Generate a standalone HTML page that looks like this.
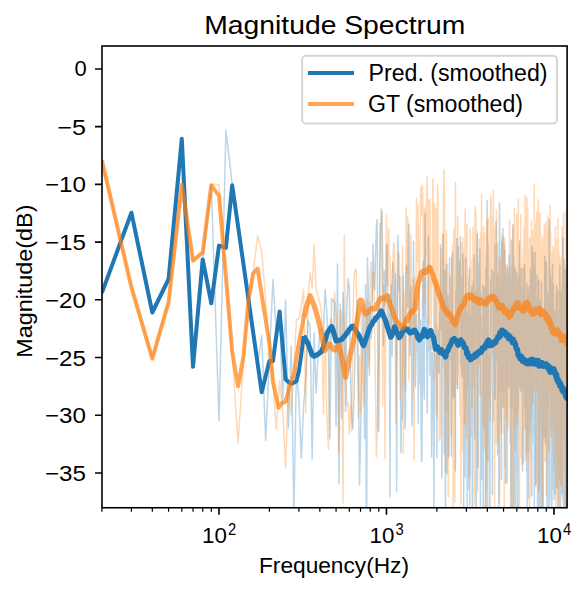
<!DOCTYPE html><html><head><meta charset="utf-8"><style>html,body{margin:0;padding:0;background:#fff;width:587px;height:591px;overflow:hidden;position:relative}</style></head><body><svg width="587" height="591" viewBox="0 0 587 591" style="position:absolute;left:0;top:0"><rect x="0" y="0" width="587" height="591" fill="#fff"/><defs><clipPath id="ax"><rect x="101.9" y="45.86" width="465.30000000000007" height="461.74"/></clipPath></defs><g clip-path="url(#ax)"><path d="M101.90 294.0L131.40 212.7L152.33 312.5L168.56 279.0L181.82 138.8L193.03 366.8L202.75 259.4L211.32 184.4L218.98 421.0L225.91 130.1L232.24 184.4L238.07 219.0L243.46 259.4L248.48 296.3L253.17 332.1L257.58 364.5L261.74 335.6L265.67 440.6L269.40 357.5L272.95 279.6L276.34 334.4L279.57 311.4L282.67 403.7L285.63 299.8L288.49 427.9L291.23 346.0L293.88 513.4L296.43 369.1L298.90 399.9L301.28 458.2L303.59 407.1L305.83 376.0L308.00 320.5L310.11 326.3L312.16 459.0L314.15 333.1L316.09 393.3L317.98 357.5L319.83 329.7L321.62 328.3L323.37 333.2L325.09 289.4L326.76 311.0L328.39 346.8L329.99 438.7L331.56 298.7L333.09 300.1L334.59 303.2L336.06 425.9L337.50 264.0L338.91 483.8L340.30 304.1L341.66 418.7L342.99 292.6L344.30 324.9L345.59 411.5L346.85 306.6L348.10 278.6L349.32 287.7L350.52 377.3L351.71 415.9L352.87 428.8L354.02 398.7L355.14 339.7L356.25 319.2L357.35 299.9L358.43 379.2L359.49 485.1L360.53 437.5L361.57 382.5L362.58 343.8L363.59 304.9L364.58 438.8L365.55 284.3L366.52 583.3L367.47 257.7L368.41 295.7L369.33 374.9L370.25 301.9L371.15 338.6L372.04 327.4L372.93 244.3L373.80 270.3L374.66 290.0L375.51 256.9L376.35 226.5L377.18 219.7L378.00 430.6L378.82 431.1L379.62 296.7L380.41 223.6L381.20 228.3L381.98 210.5L382.75 272.3L383.51 345.8L384.26 270.9L385.01 305.2L385.75 284.6L386.48 244.8L387.20 245.7L387.92 335.1L388.63 320.2L389.33 294.6L390.03 497.0L390.72 304.4L391.40 284.8L392.08 356.6L392.75 262.5L393.41 269.8L394.07 330.1L394.72 331.5L395.37 273.5L396.01 340.8L396.65 491.7L397.28 283.9L397.90 235.4L398.52 278.5L399.13 291.9L399.74 276.4L400.35 339.0L400.95 452.7L401.54 402.6L402.13 419.9L402.71 377.3L403.29 275.8L403.87 325.1L404.44 316.1L405.00 428.6L405.57 412.1L406.12 264.9L406.68 267.2L407.23 302.0L407.77 308.3L408.31 239.5L408.85 223.9L409.38 259.5L409.91 355.8L410.43 305.9L410.96 286.8L411.47 339.8L411.99 425.7L412.50 398.1L413.01 381.1L413.51 241.3L414.01 293.9L414.51 298.6L415.00 347.3L415.49 386.7L415.98 359.5L416.46 314.0L416.94 333.2L417.42 351.5L417.89 326.1L418.36 423.2L418.83 317.3L419.29 287.2L419.76 383.6L420.21 367.5L420.67 320.6L421.12 433.3L421.57 461.5L422.02 454.5L422.47 303.6L422.91 268.5L423.35 260.9L423.79 380.8L424.22 399.1L424.65 278.5L425.08 213.4L425.51 272.6L425.93 315.9L426.35 322.7L426.77 355.7L427.19 413.3L427.60 371.8L428.02 289.8L428.43 237.1L428.83 348.4L429.24 351.4L429.64 333.8L430.04 374.7L430.44 336.5L430.84 358.7L431.23 380.8L431.62 457.1L432.01 409.2L432.40 352.4L432.79 383.5L433.17 418.3L433.55 414.3L433.93 523.2L434.31 377.9L434.69 353.6L435.06 321.9L435.43 278.3L435.80 320.9L436.17 414.4L436.54 324.7L436.90 457.7L437.27 356.6L437.63 354.9L437.99 372.4L438.34 330.0L438.70 371.1L439.05 372.7L439.41 311.9L439.76 329.8L440.10 324.6L440.45 244.7L440.80 285.1L441.14 326.3L441.48 332.7L441.82 478.0L442.16 333.9L442.50 367.8L442.84 255.5L443.17 234.3L443.50 317.3L443.84 336.7L444.17 454.6L444.49 270.0L444.82 273.3L445.15 299.4L445.47 530.8L445.79 358.4L446.11 320.2L446.43 264.3L446.75 396.2L447.07 474.1L447.39 370.2L447.70 295.5L448.01 375.8L448.32 457.4L448.63 330.5L448.94 454.8L449.25 322.1L449.56 258.0L449.86 345.1L450.17 323.7L450.47 359.4L450.77 332.3L451.07 326.5L451.37 456.0L451.67 257.4L451.96 324.5L452.26 270.5L452.55 253.0L452.84 398.6L453.13 389.3L453.43 333.7L453.71 366.4L454.00 322.7L454.29 396.6L454.58 355.8L454.86 315.6L455.14 377.6L455.43 470.7L455.71 290.9L455.99 308.6L456.27 293.0L456.55 258.9L456.82 238.5L457.10 326.8L457.37 359.3L457.65 388.7L457.92 288.1L458.19 246.4L458.46 309.5L458.73 336.7L459.00 308.3L459.27 262.5L459.54 266.9L459.80 303.0L460.07 264.9L460.33 236.8L460.60 301.7L460.86 365.2L461.12 289.1L461.38 307.5L461.64 366.1L461.90 376.5L462.15 277.5L462.41 307.7L462.67 308.4L462.92 253.9L463.18 267.6L463.43 324.8L463.68 514.4L463.93 325.1L464.18 321.7L464.43 384.4L464.68 307.9L464.93 477.3L465.18 464.3L465.42 364.1L465.67 258.2L465.91 285.7L466.15 307.7L466.40 345.0L466.64 402.9L466.88 317.1L467.12 511.0L467.36 315.1L467.60 388.4L467.84 404.5L468.08 319.1L468.31 304.1L468.55 391.4L468.78 489.4L469.02 316.4L469.25 268.1L469.48 313.1L469.72 504.9L469.95 468.3L470.18 476.8L470.41 391.7L470.64 316.1L470.86 332.7L471.09 320.3L471.32 436.5L471.55 308.6L471.77 286.8L472.00 346.4L472.22 426.2L472.44 596.0L472.67 398.2L472.89 352.2L473.11 295.4L473.33 281.8L473.55 332.0L473.77 336.0L473.99 360.2L474.21 255.1L474.43 269.6L474.64 425.4L474.86 438.4L475.07 307.3L475.29 291.8L475.50 315.4L475.72 290.8L475.93 346.1L476.14 531.8L476.35 482.9L476.56 481.3L476.78 276.3L476.99 244.5L477.19 243.6L477.40 234.3L477.61 368.0L477.82 329.7L478.03 467.4L478.23 307.3L478.44 365.8L478.64 311.1L478.85 263.6L479.05 339.3L479.26 278.7L479.46 363.0L479.66 257.0L479.86 248.7L480.06 292.2L480.26 320.4L480.46 505.6L480.66 293.5L480.86 337.5L481.06 386.3L481.26 317.3L481.46 419.0L481.65 479.0L481.85 460.4L482.05 373.0L482.24 380.5L482.44 330.3L482.63 346.5L482.82 421.4L483.02 284.9L483.21 539.9L483.40 286.1L483.59 298.0L483.78 370.4L483.98 290.6L484.17 312.8L484.36 288.2L484.54 426.3L484.73 428.5L484.92 372.5L485.11 345.4L485.30 341.9L485.48 548.1L485.67 322.1L485.86 268.6L486.04 300.0L486.23 278.8L486.41 254.4L486.59 285.5L486.78 489.1L486.96 255.0L487.14 200.5L487.33 248.5L487.51 515.0L487.69 249.0L487.87 244.4L488.05 282.2L488.23 361.5L488.41 460.8L488.59 373.6L488.77 421.5L488.94 359.5L489.12 424.3L489.30 355.8L489.48 404.3L489.65 541.4L489.83 570.4L490.00 423.1L490.18 384.9L490.35 326.5L490.53 279.5L490.70 297.8L490.87 355.8L491.05 357.2L491.22 325.5L491.39 303.9L491.56 299.8L491.74 269.3L491.91 274.8L492.08 390.5L492.25 338.5L492.42 494.7L492.59 360.3L492.75 335.1L492.92 335.6L493.09 389.3L493.26 421.3L493.43 414.5L493.59 350.6L493.76 271.8L493.93 314.0L494.09 336.4L494.26 287.9L494.42 292.5L494.59 398.4L494.75 294.4L494.92 250.5L495.08 244.8L495.24 399.3L495.41 316.2L495.57 366.4L495.73 295.1L495.89 327.3L496.05 221.7L496.22 329.5L496.38 281.2L496.54 244.7L496.70 295.1L496.86 332.2L497.02 361.2L497.17 323.1L497.33 300.0L497.49 420.7L497.65 454.6L497.81 314.9L497.96 287.8L498.12 274.1L498.28 288.7L498.43 297.8L498.59 313.6L498.75 336.2L498.90 541.5L499.06 241.9L499.21 253.7L499.37 287.1L499.52 202.7L499.67 228.2L499.83 257.8L499.98 362.5L500.13 358.4L500.28 392.9L500.44 335.6L500.59 338.4L500.74 320.1L500.89 420.6L501.04 285.3L501.19 305.2L501.34 472.7L501.49 479.7L501.64 266.6L501.79 241.6L501.94 279.0L502.09 335.5L502.24 277.5L502.38 292.6L502.53 357.3L502.68 391.0L502.83 246.1L502.97 228.7L503.12 365.1L503.27 298.8L503.41 406.8L503.56 322.9L503.70 301.0L503.85 361.2L503.99 244.3L504.14 272.3L504.28 319.0L504.43 265.9L504.57 284.1L504.71 275.5L504.86 250.3L505.00 288.6L505.14 467.9L505.28 365.8L505.42 272.1L505.57 276.0L505.71 483.2L505.85 333.1L505.99 320.7L506.13 347.6L506.27 340.9L506.41 407.2L506.55 384.9L506.69 356.2L506.83 457.0L506.97 319.0L507.11 482.7L507.25 268.0L507.38 320.9L507.52 359.8L507.66 328.6L507.80 294.2L507.93 352.4L508.07 288.8L508.21 300.5L508.34 386.1L508.48 362.7L508.62 274.3L508.75 310.8L508.89 322.2L509.02 388.0L509.16 344.3L509.29 261.2L509.42 255.3L509.56 280.1L509.69 288.3L509.83 270.1L509.96 338.5L510.09 355.6L510.23 442.7L510.36 397.1L510.49 367.3L510.62 353.1L510.75 314.9L510.89 340.0L511.02 578.1L511.15 313.0L511.28 240.0L511.41 296.4L511.54 365.8L511.67 409.3L511.80 371.0L511.93 292.4L512.06 345.1L512.19 300.1L512.32 243.0L512.45 287.1L512.58 283.7L512.71 332.8L512.83 313.1L512.96 224.6L513.09 287.3L513.22 569.9L513.34 363.6L513.47 349.8L513.60 256.8L513.72 278.1L513.85 320.3L513.98 275.3L514.10 341.1L514.23 502.5L514.35 303.4L514.48 267.2L514.60 337.6L514.73 307.3L514.85 316.0L514.98 268.7L515.10 612.0L515.23 371.1L515.35 309.7L515.47 283.8L515.60 296.6L515.72 314.2L515.84 521.9L515.97 340.1L516.09 301.0L516.21 298.3L516.33 331.0L516.46 473.3L516.58 369.0L516.70 272.2L516.82 364.3L516.94 290.6L517.06 278.9L517.18 291.4L517.30 298.7L517.42 362.3L517.54 338.3L517.66 384.7L517.78 614.0L517.90 515.4L518.02 334.8L518.14 329.7L518.26 383.5L518.38 408.8L518.50 314.1L518.62 369.7L518.73 286.2L518.85 273.8L518.97 312.3L519.09 340.2L519.21 355.1L519.32 314.6L519.44 241.1L519.56 285.0L519.67 386.5L519.79 298.2L519.91 329.9L520.02 336.0L520.14 350.4L520.25 382.0L520.37 290.2L520.48 359.9L520.60 323.9L520.72 287.6L520.83 368.6L520.94 391.5L521.06 327.9L521.17 268.5L521.29 364.8L521.40 376.6L521.52 383.9L521.63 360.9L521.74 309.1L521.86 328.4L521.97 319.6L522.08 291.6L522.19 355.8L522.31 295.9L522.42 290.1L522.53 358.4L522.64 471.1L522.75 375.9L522.87 404.4L522.98 337.8L523.09 309.7L523.20 327.9L523.31 269.4L523.42 291.7L523.53 368.2L523.64 462.3L523.75 395.3L523.86 322.7L523.97 363.6L524.08 389.4L524.19 358.3L524.30 373.0L524.41 266.0L524.52 302.8L524.63 264.5L524.74 292.6L524.85 284.3L524.96 277.6L525.06 302.2L525.17 352.6L525.28 409.3L525.39 322.4L525.50 309.6L525.60 306.1L525.71 303.0L525.82 428.1L525.93 320.6L526.03 316.1L526.14 452.9L526.25 319.3L526.35 310.6L526.46 372.6L526.56 470.9L526.67 427.7L526.78 348.3L526.88 347.8L526.99 283.8L527.09 307.3L527.20 508.7L527.30 374.0L527.41 289.0L527.51 302.2L527.62 344.6L527.72 323.5L527.83 320.9L527.93 390.4L528.03 491.9L528.14 498.5L528.24 378.7L528.35 374.9L528.45 332.3L528.55 334.6L528.65 292.9L528.76 299.3L528.86 355.7L528.96 451.6L529.07 354.8L529.17 286.6L529.27 338.9L529.37 337.6L529.47 334.7L529.58 307.7L529.68 324.9L529.78 288.2L529.88 381.4L529.98 393.8L530.08 330.5L530.18 312.5L530.28 376.3L530.39 355.2L530.49 268.7L530.59 426.9L530.69 295.4L530.79 277.7L530.89 435.8L530.99 302.2L531.09 270.1L531.19 268.8L531.29 323.5L531.38 460.0L531.48 316.0L531.58 269.9L531.68 310.3L531.78 496.1L531.88 246.3L531.98 258.0L532.08 375.9L532.17 369.4L532.27 292.1L532.37 328.8L532.47 443.0L532.57 290.4L532.66 294.5L532.76 300.0L532.86 305.6L532.96 383.5L533.05 345.2L533.15 252.1L533.25 430.6L533.34 320.3L533.44 395.5L533.54 432.1L533.63 387.9L533.73 350.3L533.82 425.2L533.92 346.5L534.02 363.9L534.11 365.4L534.21 469.6L534.30 515.2L534.40 359.0L534.49 265.9L534.59 292.2L534.68 418.6L534.78 486.5L534.87 445.0L534.97 336.0L535.06 271.5L535.16 252.2L535.25 289.0L535.34 391.7L535.44 330.2L535.53 313.1L535.63 413.5L535.72 431.3L535.81 387.4L535.91 471.8L536.00 483.5L536.09 370.4L536.19 358.9L536.28 383.2L536.37 394.3L536.46 313.3L536.56 315.3L536.65 378.3L536.74 300.7L536.83 323.5L536.92 355.2L537.02 316.8L537.11 277.4L537.20 274.9L537.29 330.1L537.38 371.0L537.47 362.0L537.57 514.1L537.66 481.0L537.75 415.7L537.84 392.0L537.93 289.8L538.02 315.6L538.11 377.1L538.20 348.8L538.29 418.2L538.38 354.5L538.47 415.2L538.56 354.6L538.65 296.4L538.74 279.9L538.83 285.2L538.92 297.8L539.01 700.5L539.10 328.0L539.19 387.0L539.28 351.0L539.37 381.1L539.46 431.4L539.54 332.0L539.63 399.2L539.72 343.8L539.81 355.9L539.90 301.0L539.99 326.3L540.07 355.1L540.16 390.3L540.25 384.6L540.34 449.4L540.43 556.2L540.51 424.6L540.60 356.0L540.69 420.3L540.78 394.8L540.86 429.9L540.95 336.8L541.04 323.8L541.12 420.6L541.21 404.1L541.30 388.3L541.38 371.2L541.47 281.8L541.56 308.0L541.64 330.5L541.73 339.6L541.81 363.8L541.90 408.9L541.99 404.7L542.07 432.6L542.16 430.3L542.24 531.1L542.33 527.2L542.41 393.9L542.50 394.2L542.58 584.2L542.67 374.7L542.75 547.7L542.84 376.1L542.92 319.3L543.01 335.9L543.09 341.3L543.18 405.1L543.26 376.9L543.35 347.8L543.43 415.8L543.51 371.3L543.60 321.8L543.68 349.7L543.77 341.2L543.85 383.9L543.93 367.2L544.02 437.4L544.10 368.5L544.18 310.7L544.27 326.1L544.35 345.3L544.43 340.2L544.52 357.9L544.60 320.1L544.68 268.0L544.76 256.6L544.85 347.1L544.93 361.9L545.01 358.6L545.09 392.3L545.18 343.6L545.26 330.1L545.34 394.6L545.42 443.6L545.50 339.9L545.58 269.2L545.67 262.8L545.75 327.6L545.83 349.4L545.91 341.8L545.99 402.1L546.07 348.5L546.15 303.1L546.23 323.8L546.32 309.1L546.40 262.2L546.48 282.6L546.56 416.2L546.64 294.0L546.72 439.7L546.80 318.1L546.88 437.0L546.96 570.1L547.04 421.1L547.12 308.9L547.20 358.9L547.28 390.1L547.36 302.7L547.44 318.0L547.52 390.7L547.60 357.2L547.68 411.3L547.76 324.9L547.84 293.5L547.91 339.3L547.99 385.9L548.07 313.1L548.15 317.0L548.23 335.9L548.31 459.2L548.39 384.5L548.47 380.2L548.54 452.9L548.62 467.0L548.70 412.2L548.78 517.8L548.86 388.2L548.94 384.9L549.01 370.8L549.09 343.2L549.17 298.5L549.25 219.6L549.32 222.8L549.40 300.3L549.48 552.3L549.56 361.0L549.63 385.6L549.71 342.7L549.79 283.2L549.86 293.2L549.94 269.8L550.02 319.0L550.10 358.5L550.17 426.5L550.25 360.3L550.33 301.4L550.40 309.8L550.48 340.3L550.55 304.1L550.63 277.6L550.71 355.7L550.78 352.6L550.86 353.2L550.93 282.5L551.01 412.8L551.09 405.5L551.16 354.3L551.24 413.3L551.31 500.9L551.39 472.6L551.46 371.1L551.54 307.5L551.61 338.7L551.69 338.3L551.76 421.7L551.84 517.6L551.91 364.1L551.99 303.6L552.06 304.3L552.14 465.3L552.21 379.7L552.29 433.4L552.36 344.8L552.44 264.2L552.51 286.3L552.58 316.1L552.66 319.4L552.73 443.4L552.81 320.0L552.88 347.3L552.95 363.7L553.03 337.1L553.10 373.7L553.18 479.7L553.25 489.3L553.32 412.4L553.40 345.4L553.47 284.2L553.54 304.3L553.62 350.8L553.69 347.9L553.76 364.2L553.83 319.6L553.91 499.2L553.98 426.7L554.05 354.1L554.13 402.4L554.20 368.0L554.27 346.3L554.34 376.6L554.42 365.5L554.49 345.0L554.56 371.1L554.63 337.8L554.70 375.1L554.78 444.2L554.85 397.0L554.92 378.7L554.99 398.1L555.06 310.7L555.13 494.0L555.21 388.7L555.28 342.5L555.35 441.1L555.42 438.7L555.49 421.8L555.56 403.5L555.63 389.8L555.71 366.1L555.78 367.2L555.85 384.6L555.92 344.8L555.99 313.5L556.06 363.0L556.13 294.9L556.20 312.2L556.27 329.9L556.34 337.3L556.41 335.8L556.48 388.1L556.55 447.8L556.62 385.0L556.69 285.4L556.76 312.6L556.83 487.8L556.90 431.5L556.97 359.8L557.04 326.3L557.11 470.7L557.18 340.2L557.25 336.0L557.32 362.9L557.39 423.9L557.46 318.7L557.53 422.7L557.60 389.9L557.67 354.0L557.74 364.4L557.81 363.3L557.87 412.7L557.94 291.5L558.01 332.6L558.08 348.1L558.15 388.7L558.22 325.4L558.29 351.9L558.36 423.2L558.42 468.0L558.49 694.8L558.56 469.6L558.63 401.2L558.70 602.3L558.77 373.8L558.83 334.7L558.90 330.2L558.97 453.6L559.04 537.0L559.11 584.8L559.17 404.3L559.24 530.5L559.31 352.3L559.38 371.7L559.44 491.2L559.51 475.1L559.58 352.4L559.65 309.8L559.71 390.5L559.78 353.3L559.85 265.6L559.91 292.9L559.98 380.3L560.05 445.2L560.12 446.0L560.18 416.3L560.25 419.0L560.32 594.8L560.38 356.3L560.45 404.3L560.52 386.4L560.58 481.9L560.65 297.3L560.71 291.3L560.78 367.7L560.85 331.3L560.91 497.8L560.98 318.6L561.05 296.7L561.11 293.8L561.18 310.0L561.24 418.3L561.31 455.1L561.37 398.6L561.44 421.9L561.51 309.7L561.57 388.2L561.64 360.9L561.70 395.3L561.77 441.7L561.83 434.6L561.90 458.5L561.96 390.6L562.03 335.0L562.09 325.3L562.16 494.0L562.22 291.5L562.29 281.9L562.35 330.8L562.42 413.3L562.48 408.3L562.55 370.3L562.61 400.4L562.68 381.7L562.74 373.9L562.81 244.1L562.87 237.9L562.93 311.0L563.00 440.1L563.06 409.5L563.13 358.1L563.19 340.2L563.26 356.2L563.32 354.3L563.38 340.4L563.45 404.4L563.51 390.3L563.58 307.3L563.64 313.2L563.70 334.5L563.77 419.6L563.83 258.9L563.89 294.8L563.96 615.6L564.02 383.5L564.08 330.8L564.15 430.5L564.21 396.2L564.27 396.5L564.34 337.8L564.40 493.8L564.46 543.3L564.53 356.7L564.59 286.5L564.65 313.6L564.71 333.4L564.78 432.1L564.84 431.2L564.90 360.1L564.96 337.1L565.03 407.0L565.09 501.0L565.15 379.3L565.21 413.5L565.28 348.5L565.34 269.8L565.40 277.0L565.46 329.6L565.53 368.5L565.59 314.8L565.65 334.1L565.71 338.9L565.77 351.2L565.84 541.9L565.90 392.8L565.96 325.5L566.02 289.7L566.08 283.2L566.14 322.5L566.20 355.4L566.27 339.3L566.33 315.8L566.39 317.0L566.45 336.5L566.51 324.4L566.57 297.6L566.63 344.1L566.70 415.8L566.76 403.2L566.82 360.9L566.88 318.6L566.94 362.6L567.00 580.6L567.06 495.2L567.12 446.3L567.18 339.2L567.24 303.9L567.30 304.7L567.36 299.8L567.42 316.8L567.48 465.6L567.55 392.9" fill="none" stroke="#1f77b4" stroke-opacity="0.3" stroke-width="1.5" stroke-linejoin="round"/><path d="M101.90 162.4L131.40 287.1L152.33 357.5L168.56 302.1L181.82 184.4L193.03 260.6L202.75 252.5L211.32 184.4L218.98 184.4L225.91 276.7L232.24 354.1L238.07 442.9L243.46 362.1L248.48 299.8L253.17 273.3L257.58 235.7L261.74 251.3L265.67 299.8L269.40 343.7L272.95 381.8L276.34 429.1L279.57 380.6L282.67 409.5L285.63 468.3L288.49 380.6L291.23 415.2L293.88 369.1L296.43 319.4L298.90 319.2L301.28 307.0L303.59 289.4L305.83 413.0L308.00 297.9L310.11 272.6L312.16 288.2L314.15 244.4L316.09 288.7L317.98 295.8L319.83 302.7L321.62 313.1L323.37 414.1L325.09 329.4L326.76 410.6L328.39 449.2L329.99 319.2L331.56 319.2L333.09 337.7L334.59 291.7L336.06 313.9L337.50 340.9L338.91 453.3L340.30 310.3L341.66 314.0L342.99 503.0L344.30 235.2L345.59 368.7L346.85 405.1L348.10 403.0L349.32 434.5L350.52 405.0L351.71 431.4L352.87 323.1L354.02 276.8L355.14 269.7L356.25 269.1L357.35 354.4L358.43 417.2L359.49 355.8L360.53 412.8L361.57 308.0L362.58 368.7L363.59 406.5L364.58 382.4L365.55 346.0L366.52 319.7L367.47 299.3L368.41 366.8L369.33 352.7L370.25 271.4L371.15 262.1L372.04 301.1L372.93 277.7L373.80 272.5L374.66 330.0L375.51 388.5L376.35 456.6L377.18 433.4L378.00 389.7L378.82 351.0L379.62 275.6L380.41 223.7L381.20 208.6L381.98 274.0L382.75 406.3L383.51 286.3L384.26 293.5L385.01 458.7L385.75 314.3L386.48 215.2L387.20 281.2L387.92 285.9L388.63 229.3L389.33 259.9L390.03 255.9L390.72 331.2L391.40 302.8L392.08 270.9L392.75 269.1L393.41 245.5L394.07 242.9L394.72 260.0L395.37 344.9L396.01 422.9L396.65 322.1L397.28 340.3L397.90 285.2L398.52 254.3L399.13 252.8L399.74 288.5L400.35 400.4L400.95 383.5L401.54 378.4L402.13 262.4L402.71 246.2L403.29 453.6L403.87 291.3L404.44 330.1L405.00 381.1L405.57 390.2L406.12 207.8L406.68 253.1L407.23 273.3L407.77 217.1L408.31 321.0L408.85 379.4L409.38 292.3L409.91 340.5L410.43 303.5L410.96 233.7L411.47 280.4L411.99 333.0L412.50 281.1L413.01 279.8L413.51 292.1L414.01 460.3L414.51 293.3L415.00 277.5L415.49 330.9L415.98 312.8L416.46 198.0L416.94 224.4L417.42 261.5L417.89 205.5L418.36 231.2L418.83 323.9L419.29 262.2L419.76 269.7L420.21 232.9L420.67 186.9L421.12 202.9L421.57 215.1L422.02 189.8L422.47 185.3L422.91 199.9L423.35 287.9L423.79 315.7L424.22 227.4L424.65 208.2L425.08 302.8L425.51 262.1L425.93 203.7L426.35 255.7L426.77 199.7L427.19 176.5L427.60 209.5L428.02 253.5L428.43 323.7L428.83 199.8L429.24 209.5L429.64 289.7L430.04 199.8L430.44 323.6L430.84 327.6L431.23 349.4L431.62 266.8L432.01 287.1L432.40 260.3L432.79 179.0L433.17 187.7L433.55 258.3L433.93 379.9L434.31 255.3L434.69 202.9L435.06 231.0L435.43 288.7L435.80 240.0L436.17 208.6L436.54 278.6L436.90 417.2L437.27 233.8L437.63 185.0L437.99 197.0L438.34 278.7L438.70 309.1L439.05 305.5L439.41 440.4L439.76 301.9L440.10 438.6L440.45 421.0L440.80 275.2L441.14 248.6L441.48 324.5L441.82 328.0L442.16 318.5L442.50 241.3L442.84 232.7L443.17 359.7L443.50 194.6L443.84 186.1L444.17 169.7L444.49 208.8L444.82 374.6L445.15 352.3L445.47 472.1L445.79 444.0L446.11 273.2L446.43 230.6L446.75 275.0L447.07 411.8L447.39 263.9L447.70 274.5L448.01 317.9L448.32 496.8L448.63 309.9L448.94 303.0L449.25 348.0L449.56 329.4L449.86 277.9L450.17 276.3L450.47 348.8L450.77 311.2L451.07 288.1L451.37 435.8L451.67 310.0L451.96 324.3L452.26 250.7L452.55 244.9L452.84 385.8L453.13 516.4L453.43 290.7L453.71 245.0L454.00 228.1L454.29 238.3L454.58 477.2L454.86 502.3L455.14 328.7L455.43 182.3L455.71 224.2L455.99 350.2L456.27 384.0L456.55 364.5L456.82 328.9L457.10 372.7L457.37 388.4L457.65 245.8L457.92 216.6L458.19 287.6L458.46 373.7L458.73 340.9L459.00 274.0L459.27 331.7L459.54 260.3L459.80 415.8L460.07 297.5L460.33 310.5L460.60 335.7L460.86 504.3L461.12 261.4L461.38 242.7L461.64 319.0L461.90 278.9L462.15 450.5L462.41 294.5L462.67 237.5L462.92 267.1L463.18 351.4L463.43 256.1L463.68 248.6L463.93 386.8L464.18 398.5L464.43 318.6L464.68 424.6L464.93 250.8L465.18 209.3L465.42 288.7L465.67 243.1L465.91 238.0L466.15 348.1L466.40 438.0L466.64 405.0L466.88 227.5L467.12 224.0L467.36 318.2L467.60 277.2L467.84 388.4L468.08 325.7L468.31 385.8L468.55 295.3L468.78 282.9L469.02 307.4L469.25 477.5L469.48 277.7L469.72 278.2L469.95 362.1L470.18 229.0L470.41 264.0L470.64 308.0L470.86 297.7L471.09 266.0L471.32 285.6L471.55 353.8L471.77 339.8L472.00 407.3L472.22 259.8L472.44 299.5L472.67 387.5L472.89 290.9L473.11 226.7L473.33 267.1L473.55 367.6L473.77 342.9L473.99 326.7L474.21 381.0L474.43 504.7L474.64 308.1L474.86 349.4L475.07 209.7L475.29 207.0L475.50 232.8L475.72 246.6L475.93 212.1L476.14 239.6L476.35 302.4L476.56 298.9L476.78 372.1L476.99 231.2L477.19 246.7L477.40 316.3L477.61 491.6L477.82 394.1L478.03 293.9L478.23 336.1L478.44 288.5L478.64 364.1L478.85 301.1L479.05 297.1L479.26 282.8L479.46 239.6L479.66 243.2L479.86 372.5L480.06 394.8L480.26 375.3L480.46 248.9L480.66 232.6L480.86 335.2L481.06 251.3L481.26 301.2L481.46 220.4L481.65 194.2L481.85 301.1L482.05 274.0L482.24 247.3L482.44 236.5L482.63 268.9L482.82 283.9L483.02 426.9L483.21 274.6L483.40 252.6L483.59 227.3L483.78 386.9L483.98 270.0L484.17 281.1L484.36 447.8L484.54 236.5L484.73 233.0L484.92 310.1L485.11 451.3L485.30 286.4L485.48 327.6L485.67 337.6L485.86 633.4L486.04 371.7L486.23 365.1L486.41 432.1L486.59 304.5L486.78 236.5L486.96 220.0L487.14 272.9L487.33 405.8L487.51 461.5L487.69 276.4L487.87 219.4L488.05 414.0L488.23 284.1L488.41 236.4L488.59 217.9L488.77 257.2L488.94 396.9L489.12 261.2L489.30 263.9L489.48 262.3L489.65 256.5L489.83 382.8L490.00 271.6L490.18 421.2L490.35 360.7L490.53 227.5L490.70 195.6L490.87 208.5L491.05 197.3L491.22 201.5L491.39 227.3L491.56 220.3L491.74 260.2L491.91 299.1L492.08 235.4L492.25 217.5L492.42 327.8L492.59 249.8L492.75 241.4L492.92 333.3L493.09 351.5L493.26 266.5L493.43 190.4L493.59 285.9L493.76 322.9L493.93 365.8L494.09 226.3L494.26 228.7L494.42 336.1L494.59 542.0L494.75 358.4L494.92 400.9L495.08 290.1L495.24 335.9L495.41 353.5L495.57 330.7L495.73 307.9L495.89 309.4L496.05 444.5L496.22 415.2L496.38 210.3L496.54 219.4L496.70 322.3L496.86 317.2L497.02 251.4L497.17 242.1L497.33 242.8L497.49 256.6L497.65 259.9L497.81 257.2L497.96 289.2L498.12 440.7L498.28 307.7L498.43 309.6L498.59 381.4L498.75 276.0L498.90 277.2L499.06 273.1L499.21 289.4L499.37 298.8L499.52 502.7L499.67 318.8L499.83 257.7L499.98 279.1L500.13 283.3L500.28 274.4L500.44 299.3L500.59 369.5L500.74 307.0L500.89 277.4L501.04 266.7L501.19 328.2L501.34 433.5L501.49 285.5L501.64 262.3L501.79 237.0L501.94 234.7L502.09 276.2L502.24 366.1L502.38 392.7L502.53 379.1L502.68 407.8L502.83 245.2L502.97 274.4L503.12 293.2L503.27 237.2L503.41 319.6L503.56 432.8L503.70 316.6L503.85 280.1L503.99 296.7L504.14 281.8L504.28 587.1L504.43 265.3L504.57 279.2L504.71 237.9L504.86 279.2L505.00 392.7L505.14 315.1L505.28 273.5L505.42 306.0L505.57 335.3L505.71 294.5L505.85 264.8L505.99 329.2L506.13 301.5L506.27 340.5L506.41 417.7L506.55 287.7L506.69 321.4L506.83 358.4L506.97 291.1L507.11 343.0L507.25 264.8L507.38 269.9L507.52 406.7L507.66 430.6L507.80 373.6L507.93 376.8L508.07 293.0L508.21 425.9L508.34 309.9L508.48 268.1L508.62 286.5L508.75 325.6L508.89 341.5L509.02 317.1L509.16 271.7L509.29 289.5L509.42 251.5L509.56 220.4L509.69 230.6L509.83 297.2L509.96 334.3L510.09 369.0L510.23 311.7L510.36 407.7L510.49 287.5L510.62 338.2L510.75 309.8L510.89 281.4L511.02 320.3L511.15 570.8L511.28 393.1L511.41 304.6L511.54 281.4L511.67 330.8L511.80 275.7L511.93 299.8L512.06 354.1L512.19 265.9L512.32 320.6L512.45 356.6L512.58 351.9L512.71 748.6L512.83 268.2L512.96 227.8L513.09 284.0L513.22 340.7L513.34 372.3L513.47 387.4L513.60 269.0L513.72 300.7L513.85 293.1L513.98 228.1L514.10 316.6L514.23 263.6L514.35 208.6L514.48 221.8L514.60 294.2L514.73 426.5L514.85 418.3L514.98 347.7L515.10 355.4L515.23 450.2L515.35 426.3L515.47 348.0L515.60 407.2L515.72 316.7L515.84 293.2L515.97 266.4L516.09 416.5L516.21 307.8L516.33 253.8L516.46 233.4L516.58 214.0L516.70 216.7L516.82 272.8L516.94 335.4L517.06 235.3L517.18 247.9L517.30 229.4L517.42 232.3L517.54 308.3L517.66 424.8L517.78 301.2L517.90 287.2L518.02 300.5L518.14 285.0L518.26 219.6L518.38 199.2L518.50 266.3L518.62 364.1L518.73 336.2L518.85 243.5L518.97 249.5L519.09 377.7L519.21 275.5L519.32 283.4L519.44 532.2L519.56 373.0L519.67 309.2L519.79 267.5L519.91 245.5L520.02 357.9L520.14 373.0L520.25 303.3L520.37 298.3L520.48 457.5L520.60 302.7L520.72 229.2L520.83 214.5L520.94 321.6L521.06 348.6L521.17 262.9L521.29 337.3L521.40 279.4L521.52 280.4L521.63 377.9L521.74 291.8L521.86 279.6L521.97 314.5L522.08 464.6L522.19 349.8L522.31 268.2L522.42 271.9L522.53 298.4L522.64 293.6L522.75 344.2L522.87 257.4L522.98 279.4L523.09 289.3L523.20 263.0L523.31 248.1L523.42 264.9L523.53 363.1L523.64 389.1L523.75 285.0L523.86 243.1L523.97 227.0L524.08 266.2L524.19 285.8L524.30 266.2L524.41 239.9L524.52 258.4L524.63 340.9L524.74 429.7L524.85 302.2L524.96 206.7L525.06 195.6L525.17 269.2L525.28 321.3L525.39 330.2L525.50 290.6L525.60 251.2L525.71 419.6L525.82 391.1L525.93 274.6L526.03 322.0L526.14 459.7L526.25 317.2L526.35 328.6L526.46 278.4L526.56 216.0L526.67 280.1L526.78 225.3L526.88 197.5L526.99 214.8L527.09 262.9L527.20 424.5L527.30 451.4L527.41 397.0L527.51 243.1L527.62 207.8L527.72 220.0L527.83 252.1L527.93 294.2L528.03 307.4L528.14 308.5L528.24 389.1L528.35 308.8L528.45 279.7L528.55 278.6L528.65 294.0L528.76 249.0L528.86 307.8L528.96 310.6L529.07 467.2L529.17 455.4L529.27 370.6L529.37 274.2L529.47 532.9L529.58 536.0L529.68 238.0L529.78 292.4L529.88 265.8L529.98 253.0L530.08 498.5L530.18 322.9L530.28 266.2L530.39 244.6L530.49 274.2L530.59 274.2L530.69 264.9L530.79 302.0L530.89 328.3L530.99 418.9L531.09 322.6L531.19 238.2L531.29 220.5L531.38 251.2L531.48 408.4L531.58 293.5L531.68 239.4L531.78 272.0L531.88 291.3L531.98 352.1L532.08 318.6L532.17 263.6L532.27 268.0L532.37 403.6L532.47 232.7L532.57 230.7L532.66 256.2L532.76 253.8L532.86 326.0L532.96 332.3L533.05 366.4L533.15 401.9L533.25 353.2L533.34 287.9L533.44 276.8L533.54 249.9L533.63 241.0L533.73 366.1L533.82 318.1L533.92 298.4L534.02 261.5L534.11 250.2L534.21 217.9L534.30 184.9L534.40 221.9L534.49 269.7L534.59 303.9L534.68 366.3L534.78 326.7L534.87 227.8L534.97 306.3L535.06 382.3L535.16 389.1L535.25 359.6L535.34 297.7L535.44 224.6L535.53 234.2L535.63 341.8L535.72 387.4L535.81 486.2L535.91 310.0L536.00 243.2L536.09 267.6L536.19 313.8L536.28 274.0L536.37 218.9L536.46 365.8L536.56 304.3L536.65 236.0L536.74 211.9L536.83 289.1L536.92 389.7L537.02 291.4L537.11 281.8L537.20 297.4L537.29 232.9L537.38 359.7L537.47 268.4L537.57 324.7L537.66 258.1L537.75 360.6L537.84 329.1L537.93 364.4L538.02 301.3L538.11 266.8L538.20 199.5L538.29 208.4L538.38 302.9L538.47 491.3L538.56 282.7L538.65 276.1L538.74 376.8L538.83 313.6L538.92 288.1L539.01 336.9L539.10 271.7L539.19 314.1L539.28 393.9L539.37 330.9L539.46 488.5L539.54 460.5L539.63 314.1L539.72 281.7L539.81 248.7L539.90 215.7L539.99 213.2L540.07 256.4L540.16 213.0L540.25 248.1L540.34 300.1L540.43 256.4L540.51 320.7L540.60 251.6L540.69 243.3L540.78 300.9L540.86 301.7L540.95 292.9L541.04 314.8L541.12 325.3L541.21 260.9L541.30 266.8L541.38 360.8L541.47 424.6L541.56 317.6L541.64 329.5L541.73 412.4L541.81 521.3L541.90 393.8L541.99 316.4L542.07 259.8L542.16 344.9L542.24 309.3L542.33 236.2L542.41 237.5L542.50 253.5L542.58 271.7L542.67 335.8L542.75 341.3L542.84 345.9L542.92 246.0L543.01 257.1L543.09 351.7L543.18 341.4L543.26 552.4L543.35 285.4L543.43 240.1L543.51 286.7L543.60 304.2L543.68 298.6L543.77 259.1L543.85 254.0L543.93 300.3L544.02 298.3L544.10 300.3L544.18 329.9L544.27 308.5L544.35 233.5L544.43 224.3L544.52 251.1L544.60 230.1L544.68 224.7L544.76 300.7L544.85 437.3L544.93 461.4L545.01 368.2L545.09 362.0L545.18 326.8L545.26 281.7L545.34 250.2L545.42 292.4L545.50 403.6L545.58 423.2L545.67 302.2L545.75 266.5L545.83 324.3L545.91 375.9L545.99 266.9L546.07 221.4L546.15 248.7L546.23 243.4L546.32 250.6L546.40 379.2L546.48 495.7L546.56 322.1L546.64 308.2L546.72 442.9L546.80 402.4L546.88 317.2L546.96 319.4L547.04 378.8L547.12 248.7L547.20 260.5L547.28 305.5L547.36 359.9L547.44 289.2L547.52 291.6L547.60 291.4L547.68 305.8L547.76 244.3L547.84 215.7L547.91 222.9L547.99 252.1L548.07 313.2L548.15 358.0L548.23 269.4L548.31 407.4L548.39 300.3L548.47 298.3L548.54 310.2L548.62 451.8L548.70 312.3L548.78 270.4L548.86 257.7L548.94 292.6L549.01 264.7L549.09 228.1L549.17 233.3L549.25 296.3L549.32 293.7L549.40 273.0L549.48 281.9L549.56 300.3L549.63 305.3L549.71 354.1L549.79 391.7L549.86 388.6L549.94 378.6L550.02 350.7L550.10 236.8L550.17 205.6L550.25 244.1L550.33 284.9L550.40 357.8L550.48 321.8L550.55 249.1L550.63 233.2L550.71 238.0L550.78 258.9L550.86 300.3L550.93 366.4L551.01 436.4L551.09 427.4L551.16 427.4L551.24 416.2L551.31 302.9L551.39 291.7L551.46 268.4L551.54 321.1L551.61 314.8L551.69 281.1L551.76 254.5L551.84 285.5L551.91 337.2L551.99 334.3L552.06 425.7L552.14 322.0L552.21 290.3L552.29 341.3L552.36 359.0L552.44 378.7L552.51 284.9L552.58 305.5L552.66 290.3L552.73 287.9L552.81 420.2L552.88 283.7L552.95 246.4L553.03 303.4L553.10 311.9L553.18 413.0L553.25 368.5L553.32 344.2L553.40 451.4L553.47 340.0L553.54 421.1L553.62 378.4L553.69 296.7L553.76 284.6L553.83 470.6L553.91 267.2L553.98 263.6L554.05 407.0L554.13 295.0L554.20 250.0L554.27 256.6L554.34 262.4L554.42 260.7L554.49 285.3L554.56 395.3L554.63 325.4L554.70 347.9L554.78 308.3L554.85 309.1L554.92 367.5L554.99 330.2L555.06 285.0L555.13 280.0L555.21 253.2L555.28 227.1L555.35 249.9L555.42 248.0L555.49 258.2L555.56 276.4L555.63 445.2L555.71 373.3L555.78 395.0L555.85 692.0L555.92 431.1L555.99 284.1L556.06 238.8L556.13 323.3L556.20 389.9L556.27 301.9L556.34 304.6L556.41 363.7L556.48 315.4L556.55 498.8L556.62 290.4L556.69 386.6L556.76 327.8L556.83 306.7L556.90 341.1L556.97 338.9L557.04 293.1L557.11 401.6L557.18 321.9L557.25 284.3L557.32 320.9L557.39 314.8L557.46 259.9L557.53 292.1L557.60 347.0L557.67 282.3L557.74 254.0L557.81 291.9L557.87 261.5L557.94 218.0L558.01 275.3L558.08 511.3L558.15 296.9L558.22 391.8L558.29 336.0L558.36 249.0L558.42 239.0L558.49 343.8L558.56 286.6L558.63 297.4L558.70 335.0L558.77 403.2L558.83 252.2L558.90 285.1L558.97 479.0L559.04 472.0L559.11 346.2L559.17 426.8L559.24 273.2L559.31 257.4L559.38 478.0L559.44 288.6L559.51 255.9L559.58 262.4L559.65 334.7L559.71 264.2L559.78 274.5L559.85 300.0L559.91 428.2L559.98 354.2L560.05 328.1L560.12 365.3L560.18 353.4L560.25 344.0L560.32 305.0L560.38 314.6L560.45 484.9L560.52 288.0L560.58 280.5L560.65 272.5L560.71 278.6L560.78 260.6L560.85 272.5L560.91 290.3L560.98 376.1L561.05 312.3L561.11 263.6L561.18 288.8L561.24 340.3L561.31 353.7L561.37 468.4L561.44 485.6L561.51 344.2L561.57 256.9L561.64 316.8L561.70 395.8L561.77 402.9L561.83 440.7L561.90 348.3L561.96 333.8L562.03 287.9L562.09 259.6L562.16 226.6L562.22 281.9L562.29 319.0L562.35 251.3L562.42 277.7L562.48 289.3L562.55 367.0L562.61 327.1L562.68 443.4L562.74 502.5L562.81 464.0L562.87 342.9L562.93 278.2L563.00 378.6L563.06 322.1L563.13 420.2L563.19 332.0L563.26 294.4L563.32 414.9L563.38 269.6L563.45 237.9L563.51 276.7L563.58 212.9L563.64 236.8L563.70 361.1L563.77 378.3L563.83 410.5L563.89 370.1L563.96 285.9L564.02 291.2L564.08 314.5L564.15 337.8L564.21 290.9L564.27 271.4L564.34 263.7L564.40 339.9L564.46 308.8L564.53 273.1L564.59 272.6L564.65 306.5L564.71 356.4L564.78 333.8L564.84 470.9L564.90 346.3L564.96 273.2L565.03 278.0L565.09 329.6L565.15 350.8L565.21 415.0L565.28 464.8L565.34 338.1L565.40 380.2L565.46 524.4L565.53 481.7L565.59 416.2L565.65 300.1L565.71 309.7L565.77 434.9L565.84 293.6L565.90 310.2L565.96 375.6L566.02 266.5L566.08 233.0L566.14 210.7L566.20 261.2L566.27 364.5L566.33 267.1L566.39 256.6L566.45 246.5L566.51 267.1L566.57 296.6L566.63 334.8L566.70 308.5L566.76 370.5L566.82 293.6L566.88 263.0L566.94 278.9L567.00 306.3L567.06 392.4L567.12 448.6L567.18 330.7L567.24 326.9L567.30 353.6L567.36 268.4L567.42 339.1L567.48 420.0L567.55 352.6" fill="none" stroke="#ff7f0e" stroke-opacity="0.3" stroke-width="1.5" stroke-linejoin="round"/><g fill="none" stroke-linejoin="round"><path d="M101.9 292.9 L131.4 212.7 L152.3 312.5 L168.6 279.0 L181.8 138.8 L193.0 366.8 L202.7 259.4 L211.3 303.3 L219.0 245.6 L225.9 247.9 L232.2 185.2 L261.7 392.2 L265.7 376.0 L269.4 361.0 L273.0 361.0 L276.3 335.6 L279.6 311.4 L285.6 379.3 L285.6 379.3 L288.5 382.1 L291.2 383.7 L293.9 382.6 L296.4 381.2 L298.9 371.2 L301.3 354.4 L303.6 335.9" stroke="#1f77b4" stroke-width="4.0"/><path d="M303.6 335.9 L305.8 339.8 L308.0 343.6 L310.1 349.4 L312.2 355.1 L314.2 356.3 L316.1 355.3 L318.0 354.2 L319.8 352.8 L321.6 351.4 L323.4 346.9 L325.1 340.5 L326.8 334.0 L328.4 331.2 L330.0 328.7 L331.6 326.6 L333.1 330.3 L334.6 335.7 L336.1 341.0 L337.5 341.0 L338.9 340.5 L340.3 340.1 L341.7 339.4 L343.0 337.8 L344.3 336.5 L345.6 334.9 L346.9 333.2 L348.1 331.4 L349.3 329.6 L350.5 328.1 L351.7 326.5 L352.9 326.2 L354.0 328.2 L355.1 329.6 L356.3 331.5 L357.3 333.2 L358.4 334.8 L359.5 336.8 L360.5 339.0 L361.6 341.4 L362.6 344.0 L363.6 345.6 L364.6 343.0 L365.6 340.2 L366.5 337.1 L367.5 334.1 L368.4 331.3 L369.3 328.8 L370.2 326.8 L371.2 325.1 L372.0 324.2 L372.9 322.1 L373.8 320.9 L374.7 320.2 L375.5 318.1 L376.3 317.9 L377.2 317.0 L378.0 315.5 L378.8 315.3 L379.6 313.7 L380.4 311.8 L381.2 310.9 L382.0 312.1 L382.7 314.0 L383.5 316.1 L384.3 317.7 L385.0 319.8 L385.7 320.9 L386.5 323.6 L387.2 326.6 L387.9 328.3 L388.6 330.5 L389.3 332.6 L390.0 334.8 L390.7 337.2 L391.4 336.6 L392.1 334.6 L392.7 333.0 L393.4 331.5 L394.1 328.9 L394.7 326.7 L395.4 327.6 L396.0 329.7 L396.6 331.2 L397.3 333.3 L397.9 334.7 L398.5 335.6 L399.1 337.6 L399.7 337.0 L400.3 336.1 L400.9 335.9 L401.5 333.5 L402.1 333.0 L402.7 331.6 L403.3 329.7 L403.9 329.3 L404.4 328.2 L405.0 329.1 L405.6 329.9 L406.1 329.4 L406.7 329.2 L407.2 329.2 L407.8 329.1 L408.3 330.7 L408.8 331.1 L409.4 332.2 L409.9 332.9 L410.4 332.7 L411.0 332.8 L411.5 332.3 L412.0 332.2 L412.5 331.8 L413.0 331.4 L413.5 330.4 L414.0 330.6 L414.5 331.0 L415.0 330.3 L415.5 332.2 L416.0 332.2 L416.5 332.9 L416.9 334.1 L417.4 336.4 L417.9 338.0 L418.4 338.6 L418.8 338.8 L419.3 340.0 L419.8 338.8 L420.2 337.1 L420.7 338.1 L421.1 335.6 L421.6 336.6 L422.0 336.7 L422.5 335.6 L422.9 336.1 L423.3 332.4 L423.8 331.4 L424.2 329.4 L424.7 329.8 L425.1 330.5 L425.5 330.8 L425.9 333.4 L426.4 334.1 L426.8 335.0 L427.2 335.7 L427.6 336.8 L428.0 335.9 L428.4 334.8 L428.8 334.8 L429.2 333.3 L429.6 331.3 L430.0 330.8 L430.4 331.1 L430.8 330.7 L431.2 331.7 L431.6 333.5 L432.0 334.4 L432.4 335.4 L432.8 335.9 L433.2 336.7 L433.6 337.3 L433.9 340.2 L434.3 342.3 L434.7 344.5 L435.1 347.9 L435.4 349.1 L435.8 348.2 L436.2 348.5 L436.5 347.9 L436.9 347.3 L437.3 347.3 L437.6 346.9 L438.0 347.6 L438.3 348.4 L438.7 349.2 L439.1 351.3 L439.4 351.2 L439.8 351.5 L440.1 352.7 L440.5 351.2 L440.8 350.3 L441.1 351.0 L441.5 349.7 L441.8 350.8 L442.2 352.2 L442.5 352.5 L442.8 354.0 L443.2 352.3 L443.5 353.6 L443.8 353.1 L444.2 352.4 L444.5 354.2 L444.8 354.6 L445.1 355.8 L445.5 357.1 L445.8 356.4 L446.1 355.2 L446.4 352.6 L446.8 351.2 L447.1 351.7 L447.4 350.2 L447.7 351.1 L448.0 350.5 L448.3 349.8 L448.6 348.8 L448.9 347.5 L449.3 346.4 L449.6 346.0 L449.9 345.9 L450.2 345.2 L450.5 345.3 L450.8 343.7 L451.1 342.7 L451.4 342.2 L451.7 341.6 L452.0 340.5 L452.3 339.8 L452.6 340.6 L452.8 340.3 L453.1 340.5 L453.4 340.7 L453.7 339.5 L454.0 339.0 L454.3 338.4 L454.6 339.4 L454.9 340.1 L455.1 339.8 L455.4 340.5 L455.7 340.5 L456.0 340.3 L456.3 341.9 L456.5 341.2 L456.8 342.4 L457.1 343.4 L457.4 342.7 L457.6 344.7 L457.9 345.2 L458.2 345.0 L458.5 345.0 L458.7 344.5 L459.0 343.6 L459.3 343.8 L459.5 343.1 L459.8 342.6 L460.1 342.0 L460.3 340.7 L460.6 339.8 L460.9 340.9 L461.1 341.2 L461.4 341.2 L461.6 342.9 L461.9 341.6 L462.2 342.5 L462.4 343.9 L462.7 342.3 L462.9 342.7 L463.2 342.7 L463.4 343.2 L463.7 345.0 L463.9 345.4 L464.2 347.5 L464.4 347.3 L464.7 346.7 L464.9 347.9 L465.2 347.6 L465.4 347.3 L465.7 347.7 L465.9 347.9 L466.2 348.8 L466.4 351.5 L466.6 353.7 L466.9 354.3 L467.1 354.0 L467.4 353.8 L467.6 352.1 L467.8 353.8 L468.1 355.3 L468.3 355.4 L468.5 357.5 L468.8 357.1 L469.0 356.0 L469.3 357.1 L469.5 357.1 L469.7 357.0 L469.9 358.5 L470.2 359.0 L470.4 359.8 L470.6 359.2 L470.9 358.4 L471.1 359.5 L471.3 359.0 L471.5 359.2 L471.8 358.7 L472.0 357.8 L472.2 358.0 L472.4 356.3 L472.7 357.9 L472.9 357.5 L473.1 356.8 L473.3 357.5 L473.6 356.7 L473.8 357.4 L474.0 356.5 L474.2 357.4 L474.4 356.5 L474.6 355.1 L474.9 356.1 L475.1 354.1 L475.3 354.2 L475.5 355.4 L475.7 355.2 L475.9 354.3 L476.1 355.2 L476.4 355.8 L476.6 355.0 L476.8 355.6 L477.0 355.2 L477.2 354.1 L477.4 352.5 L477.6 352.4 L477.8 352.6 L478.0 352.3 L478.2 353.6 L478.4 353.2 L478.6 352.3 L478.8 353.4 L479.1 351.7 L479.3 351.3 L479.5 352.3 L479.7 351.1 L479.9 350.9 L480.1 351.0 L480.3 352.1 L480.5 351.1 L480.7 351.5 L480.9 352.5 L481.1 351.1 L481.3 351.5 L481.5 352.0 L481.7 349.8 L481.9 349.1 L482.0 348.8 L482.2 348.0 L482.4 349.5 L482.6 349.9 L482.8 349.4 L483.0 349.2 L483.2 348.1 L483.4 347.7 L483.6 348.0 L483.8 347.4 L484.0 346.9 L484.2 346.3 L484.4 346.4 L484.5 346.7 L484.7 347.2 L484.9 348.0 L485.1 347.6 L485.3 346.6 L485.5 346.3 L485.7 344.9 L485.9 344.2 L486.0 343.7 L486.2 343.4 L486.4 343.3 L486.6 343.0 L486.8 343.6 L487.0 343.6 L487.1 342.9 L487.3 342.4 L487.5 342.8 L487.7 340.7 L487.9 341.3 L488.0 341.3 L488.2 340.4 L488.4 340.1 L488.6 340.7 L488.8 340.7 L488.9 340.2 L489.1 343.0 L489.3 342.8 L489.5 345.1 L489.7 345.8 L489.8 344.6 L490.0 345.1 L490.2 344.2 L490.4 343.7 L490.5 344.4 L490.7 345.0 L490.9 343.6 L491.0 344.1 L491.2 343.8 L491.4 342.8 L491.6 344.3 L491.7 344.6 L491.9 344.7 L492.1 345.3 L492.2 344.0 L492.4 344.4 L492.6 344.0 L492.8 343.0 L492.9 344.3 L493.1 342.9 L493.3 342.7 L493.4 343.6 L493.6 343.3 L493.8 344.0 L493.9 343.9 L494.1 343.0 L494.3 342.5 L494.4 342.0 L494.6 341.4 L494.8 342.0 L494.9 342.3 L495.1 343.2 L495.2 341.3 L495.4 341.7 L495.6 341.3 L495.7 341.0 L495.9 342.6 L496.1 340.9 L496.2 341.8 L496.4 339.9 L496.5 339.6 L496.7 339.6 L496.9 339.2 L497.0 339.4 L497.2 338.4 L497.3 338.4 L497.5 337.2 L497.6 337.7 L497.8 337.9 L498.0 337.5 L498.1 337.8 L498.3 337.8 L498.4 337.2 L498.6 336.6 L498.7 337.0 L498.9 337.6 L499.1 336.1 L499.2 335.8 L499.4 334.7 L499.5 333.4 L499.7 333.4 L499.8 332.7 L500.0 333.2 L500.1 334.5 L500.3 334.1 L500.4 334.2 L500.6 336.1 L500.7 334.3 L500.9 333.1 L501.0 333.9 L501.2 331.7 L501.3 332.3 L501.5 332.1 L501.6 331.4 L501.8 331.1 L501.9 330.1 L502.1 330.2 L502.2 330.5 L502.4 331.4 L502.5 330.9 L502.7 332.3 L502.8 332.8 L503.0 332.9 L503.1 333.0 L503.3 332.2 L503.4 332.1 L503.6 333.4 L503.7 333.1 L503.8 333.5 L504.0 333.6 L504.1 331.6 L504.3 331.4 L504.4 331.9 L504.6 333.2 L504.7 333.5 L504.9 333.8 L505.0 333.4 L505.1 333.1 L505.3 333.0 L505.4 332.4 L505.6 333.1 L505.7 333.2 L505.8 333.7 L506.0 334.6 L506.1 335.3 L506.3 335.4 L506.4 335.2 L506.6 334.9 L506.7 336.2 L506.8 335.4 L507.0 335.3 L507.1 336.6 L507.2 334.8 L507.4 336.5 L507.5 336.8 L507.7 336.2 L507.8 336.4 L507.9 334.9 L508.1 334.7 L508.2 336.2 L508.3 336.3 L508.5 337.3 L508.6 338.9 L508.8 337.9 L508.9 338.3 L509.0 337.8 L509.2 337.4 L509.3 338.0 L509.4 337.0 L509.6 336.5 L509.7 337.0 L509.8 336.2 L510.0 336.7 L510.1 337.1 L510.2 336.7 L510.4 337.2 L510.5 337.9 L510.6 337.9 L510.8 338.7 L510.9 339.3 L511.0 338.6 L511.1 339.3 L511.3 340.0 L511.4 338.9 L511.5 340.2 L511.7 339.8 L511.8 338.6 L511.9 341.6 L512.1 340.4 L512.2 341.7 L512.3 342.8 L512.4 340.6 L512.6 341.8 L512.7 341.3 L512.8 340.5 L513.0 340.0 L513.1 340.2 L513.2 339.8 L513.3 339.0 L513.5 341.8 L513.6 341.7 L513.7 341.6 L513.9 342.7 L514.0 341.2 L514.1 341.2 L514.2 341.7 L514.4 342.1 L514.5 342.2 L514.6 342.9 L514.7 342.3 L514.9 342.7 L515.0 342.8 L515.1 343.2 L515.2 343.9 L515.4 343.7 L515.5 344.8 L515.6 344.1 L515.7 346.6 L515.8 346.9 L516.0 346.9 L516.1 348.0 L516.2 348.0 L516.3 348.9 L516.5 349.1 L516.6 349.3 L516.7 348.9 L516.8 349.0 L516.9 348.5 L517.1 348.9 L517.2 349.2 L517.3 348.9 L517.4 349.5 L517.5 349.9 L517.7 351.0 L517.8 353.6 L517.9 354.4 L518.0 354.2 L518.1 355.4 L518.3 354.4 L518.4 353.4 L518.5 355.1 L518.6 354.9 L518.7 355.0 L518.9 355.5 L519.0 355.1 L519.1 356.4 L519.2 357.2 L519.3 356.8 L519.4 357.4 L519.6 356.7 L519.7 356.8 L519.8 357.6 L519.9 358.3 L520.0 358.8 L520.1 357.3 L520.3 358.0 L520.4 357.6 L520.5 357.6 L520.6 358.1 L520.7 358.2 L520.8 357.8 L520.9 357.0 L521.1 358.2 L521.2 358.3 L521.3 358.1 L521.4 357.7 L521.5 356.5 L521.6 356.3 L521.7 357.4 L521.9 357.8 L522.0 357.9 L522.1 358.4 L522.2 358.2 L522.3 358.8 L522.4 360.5 L522.5 361.2 L522.6 361.4 L522.8 360.0 L522.9 359.3 L523.0 359.1 L523.1 358.5 L523.2 359.3 L523.3 359.3 L523.4 359.7 L523.5 361.1 L523.6 361.2 L523.8 361.7 L523.9 361.6 L524.0 360.1 L524.1 360.0 L524.2 360.1 L524.3 359.4 L524.4 361.3 L524.5 361.1 L524.6 360.9 L524.7 361.6 L524.8 360.1 L525.0 362.0 L525.1 360.7 L525.2 361.5 L525.3 362.2 L525.4 361.0 L525.5 361.5 L525.6 360.8 L525.7 361.9 L525.8 362.6 L525.9 362.2 L526.0 362.9 L526.1 363.3 L526.2 361.5 L526.4 362.6 L526.5 362.3 L526.6 362.2 L526.7 362.9 L526.8 363.0 L526.9 363.6 L527.0 362.5 L527.1 363.0 L527.2 361.5 L527.3 361.7 L527.4 363.3 L527.5 362.8 L527.6 363.1 L527.7 363.8 L527.8 362.8 L527.9 361.5 L528.0 362.1 L528.1 362.3 L528.2 361.5 L528.3 362.3 L528.4 362.5 L528.6 360.6 L528.7 360.8 L528.8 360.9 L528.9 360.9 L529.0 361.7 L529.1 360.7 L529.2 361.7 L529.3 361.7 L529.4 361.9 L529.5 364.0 L529.6 362.9 L529.7 362.3 L529.8 362.2 L529.9 362.3 L530.0 361.1 L530.1 361.7 L530.2 361.4 L530.3 360.5 L530.4 362.2 L530.5 361.8 L530.6 361.6 L530.7 361.8 L530.8 360.6 L530.9 359.6 L531.0 361.2 L531.1 360.6 L531.2 361.0 L531.3 361.2 L531.4 361.4 L531.5 360.8 L531.6 361.0 L531.7 360.7 L531.8 360.9 L531.9 361.5 L532.0 359.6 L532.1 361.1 L532.2 360.4 L532.3 359.7 L532.4 360.4 L532.5 360.9 L532.6 360.3 L532.7 359.0 L532.8 359.7 L532.9 359.8 L533.0 359.5 L533.1 361.9 L533.1 361.7 L533.2 363.2 L533.3 363.3 L533.4 362.6 L533.5 364.1 L533.6 363.1 L533.7 362.6 L533.8 362.3 L533.9 362.5 L534.0 362.1 L534.1 360.7 L534.2 361.0 L534.3 360.9 L534.4 360.3 L534.5 361.5 L534.6 362.6 L534.7 362.4 L534.8 363.3 L534.9 362.6 L535.0 362.2 L535.1 362.7 L535.2 362.0 L535.3 362.7 L535.3 363.8 L535.4 363.2 L535.5 363.7 L535.6 363.6 L535.7 361.9 L535.8 362.6 L535.9 363.3 L536.0 362.9 L536.1 363.1 L536.2 362.3 L536.3 361.1 L536.4 360.3 L536.5 360.4 L536.6 363.1 L536.6 363.5 L536.7 364.0 L536.8 363.8 L536.9 362.0 L537.0 361.7 L537.1 361.2 L537.2 363.5 L537.3 363.4 L537.4 363.2 L537.5 364.8 L537.6 362.8 L537.7 362.2 L537.7 363.8 L537.8 362.8 L537.9 361.8 L538.0 363.2 L538.1 362.6 L538.2 362.3 L538.3 363.7 L538.4 364.0 L538.5 363.0 L538.6 362.3 L538.7 360.9 L538.7 360.7 L538.8 361.6 L538.9 362.9 L539.0 365.0 L539.1 366.2 L539.2 365.3 L539.3 365.7 L539.4 364.0 L539.5 363.6 L539.5 364.0 L539.6 362.9 L539.7 363.8 L539.8 362.9 L539.9 362.9 L540.0 363.7 L540.1 363.3 L540.2 364.5 L540.3 364.1 L540.3 363.6 L540.4 363.3 L540.5 363.3 L540.6 363.6 L540.7 363.5 L540.8 363.8 L540.9 362.9 L540.9 363.2 L541.0 363.6 L541.1 364.5 L541.2 364.7 L541.3 365.7 L541.4 365.7 L541.5 364.8 L541.6 364.2 L541.6 364.3 L541.7 363.3 L541.8 363.7 L541.9 365.0 L542.0 364.9 L542.1 364.1 L542.2 364.4 L542.2 364.3 L542.3 362.6 L542.4 365.1 L542.5 364.8 L542.6 364.0 L542.7 364.6 L542.8 363.6 L542.8 363.4 L542.9 365.4 L543.0 365.3 L543.1 365.9 L543.2 366.3 L543.3 364.3 L543.3 364.0 L543.4 363.3 L543.5 364.3 L543.6 364.3 L543.7 365.1 L543.8 365.0 L543.8 365.2 L543.9 365.3 L544.0 365.0 L544.1 365.8 L544.2 364.7 L544.3 365.8 L544.3 364.9 L544.4 364.8 L544.5 365.1 L544.6 364.6 L544.7 364.6 L544.8 364.8 L544.8 365.5 L544.9 364.9 L545.0 364.5 L545.1 364.9 L545.2 365.1 L545.3 365.5 L545.3 365.7 L545.4 366.2 L545.5 365.9 L545.6 365.4 L545.7 366.4 L545.7 365.9 L545.8 365.9 L545.9 366.4 L546.0 365.6 L546.1 365.1 L546.2 365.4 L546.2 364.9 L546.3 363.8 L546.4 364.6 L546.5 365.2 L546.6 364.6 L546.6 365.7 L546.7 365.4 L546.8 365.9 L546.9 366.9 L547.0 366.3 L547.0 366.9 L547.1 366.1 L547.2 365.8 L547.3 365.8 L547.4 365.6 L547.4 367.4 L547.5 367.2 L547.6 367.3 L547.7 366.9 L547.8 366.6 L547.8 366.7 L547.9 365.2 L548.0 367.1 L548.1 368.1 L548.2 367.9 L548.2 368.3 L548.3 367.7 L548.4 367.8 L548.5 367.6 L548.5 368.5 L548.6 369.7 L548.7 369.1 L548.8 368.5 L548.9 367.0 L548.9 367.1 L549.0 368.4 L549.1 367.7 L549.2 368.8 L549.2 369.3 L549.3 368.0 L549.4 367.4 L549.5 367.7 L549.6 366.9 L549.6 367.9 L549.7 367.8 L549.8 368.8 L549.9 370.9 L549.9 370.4 L550.0 371.6 L550.1 372.2 L550.2 370.4 L550.2 369.6 L550.3 368.7 L550.4 367.5 L550.5 369.9 L550.6 368.5 L550.6 369.7 L550.7 369.5 L550.8 368.7 L550.9 370.5 L550.9 369.4 L551.0 371.8 L551.1 371.0 L551.2 370.9 L551.2 371.6 L551.3 370.0 L551.4 370.2 L551.5 369.5 L551.5 369.7 L551.6 370.0 L551.7 371.7 L551.8 371.3 L551.8 370.8 L551.9 370.9 L552.0 369.1 L552.1 368.5 L552.1 368.3 L552.2 369.4 L552.3 369.6 L552.4 370.2 L552.4 371.3 L552.5 371.4 L552.6 371.6 L552.7 372.2 L552.7 371.7 L552.8 371.2 L552.9 370.6 L553.0 370.2 L553.0 370.0 L553.1 370.0 L553.2 370.5 L553.2 370.4 L553.3 370.8 L553.4 370.8 L553.5 371.8 L553.5 371.5 L553.6 371.1 L553.7 372.0 L553.8 370.5 L553.8 370.1 L553.9 371.1 L554.0 369.9 L554.1 368.8 L554.1 370.4 L554.2 370.8 L554.3 370.1 L554.3 372.0 L554.4 372.7 L554.5 370.6 L554.6 371.4 L554.6 371.7 L554.7 371.2 L554.8 371.2 L554.8 372.6 L554.9 373.2 L555.0 373.3 L555.1 374.5 L555.1 372.9 L555.2 373.5 L555.3 372.6 L555.3 372.8 L555.4 373.7 L555.5 373.6 L555.6 374.5 L555.6 375.0 L555.7 375.9 L555.8 375.5 L555.8 376.1 L555.9 376.8 L556.0 376.3 L556.1 376.5 L556.1 377.0 L556.2 376.1 L556.3 376.5 L556.3 376.9 L556.4 377.3 L556.5 379.1 L556.6 377.4 L556.6 377.2 L556.7 376.7 L556.8 374.5 L556.8 376.1 L556.9 376.6 L557.0 378.5 L557.0 378.2 L557.1 377.7 L557.2 379.0 L557.3 378.2 L557.3 379.7 L557.4 381.0 L557.5 380.3 L557.5 380.0 L557.6 379.8 L557.7 379.9 L557.7 379.7 L557.8 380.1 L557.9 381.2 L557.9 379.9 L558.0 379.9 L558.1 380.6 L558.2 379.4 L558.2 380.0 L558.3 382.0 L558.4 381.6 L558.4 381.6 L558.5 382.9 L558.6 383.2 L558.6 381.9 L558.7 382.3 L558.8 382.4 L558.8 380.4 L558.9 382.5 L559.0 383.0 L559.0 382.6 L559.1 383.9 L559.2 382.2 L559.2 381.7 L559.3 382.4 L559.4 383.5 L559.4 382.2 L559.5 383.4 L559.6 384.7 L559.6 383.1 L559.7 385.8 L559.8 385.8 L559.8 385.2 L559.9 385.2 L560.0 383.7 L560.0 384.7 L560.1 383.7 L560.2 383.9 L560.2 384.5 L560.3 383.1 L560.4 382.7 L560.4 382.9 L560.5 383.4 L560.6 383.6 L560.6 385.5 L560.7 385.7 L560.8 385.4 L560.8 385.9 L560.9 385.8 L561.0 385.2 L561.0 385.0 L561.1 384.7 L561.2 385.1 L561.2 385.9 L561.3 386.0 L561.4 387.2 L561.4 387.4 L561.5 387.4 L561.6 387.4 L561.6 387.6 L561.7 388.3 L561.8 388.7 L561.8 389.7 L561.9 389.3 L562.0 389.4 L562.0 388.1 L562.1 387.1 L562.2 387.6 L562.2 387.2 L562.3 387.6 L562.4 388.7 L562.4 389.3 L562.5 389.8 L562.5 390.2 L562.6 388.9 L562.7 388.6 L562.7 389.3 L562.8 389.5 L562.9 391.1 L562.9 391.4 L563.0 390.9 L563.1 389.8 L563.1 389.3 L563.2 388.2 L563.3 389.2 L563.3 389.8 L563.4 389.4 L563.4 390.1 L563.5 389.1 L563.6 389.1 L563.6 389.8 L563.7 390.6 L563.8 390.1 L563.8 390.0 L563.9 389.8 L564.0 389.3 L564.0 389.2 L564.1 391.0 L564.1 390.8 L564.2 391.2 L564.3 391.7 L564.3 391.2 L564.4 391.2 L564.5 390.3 L564.5 391.3 L564.6 391.8 L564.7 390.8 L564.7 392.4 L564.8 392.9 L564.8 392.4 L564.9 394.3 L565.0 394.2 L565.0 393.7 L565.1 393.1 L565.2 392.0 L565.2 391.4 L565.3 391.0 L565.3 392.1 L565.4 392.7 L565.5 394.4 L565.5 394.9 L565.6 394.4 L565.6 394.8 L565.7 394.1 L565.8 395.0 L565.8 396.7 L565.9 396.7 L566.0 396.4 L566.0 395.6 L566.1 394.9 L566.1 393.7 L566.2 394.9 L566.3 395.7 L566.3 395.9 L566.4 396.5 L566.5 395.8 L566.5 395.3 L566.6 395.0 L566.6 395.7 L566.7 396.9 L566.8 397.8 L566.8 398.2 L566.9 398.1 L566.9 397.8 L567.0 398.0 L567.1 398.3 L567.1 397.1 L567.2 397.8 L567.2 397.3 L567.3 396.2 L567.4 397.8 L567.4 397.5 L567.5 397.2 L567.5 396.7" stroke="#1f77b4" stroke-width="5.2"/></g><g fill="none" stroke-linejoin="round" opacity="0.7" style="isolation:isolate"><path d="M101.9 160.1 L131.4 287.1 L152.3 358.7 L168.6 302.1 L181.8 184.4 L193.0 260.6 L202.7 252.5 L211.3 185.2 L219.0 195.9 L225.9 276.7 L232.2 351.8 L238.1 386.4 L243.5 356.4 L248.5 299.8 L253.2 273.3 L257.6 268.6 L269.4 343.7 L273.0 381.8 L278.5 407.7 L282.1 403.0 L285.6 401.8 L285.6 401.7 L288.5 390.4 L291.2 382.0 L293.9 374.7 L296.4 358.0 L298.9 342.3 L301.3 330.1 L303.6 318.3" stroke="#ff7f0e" stroke-width="4.0"/><path d="M303.6 318.3 L305.8 309.1 L308.0 301.9 L310.1 295.7 L312.2 300.8 L314.2 305.8 L316.1 311.8 L318.0 318.9 L319.8 325.9 L321.6 335.0 L323.4 343.9 L325.1 350.3 L326.8 347.7 L328.4 345.2 L330.0 344.4 L331.6 347.0 L333.1 349.2 L334.6 350.0 L336.1 348.6 L337.5 346.5 L338.9 345.2 L340.3 351.3 L341.7 356.9 L343.0 362.3 L344.3 369.5 L345.6 377.2 L346.9 370.8 L348.1 365.4 L349.3 359.3 L350.5 353.4 L351.7 348.8 L352.9 343.4 L354.0 338.4 L355.1 333.0 L356.3 326.3 L357.3 319.6 L358.4 312.7 L359.5 306.6 L360.5 300.1 L361.6 300.5 L362.6 304.5 L363.6 308.3 L364.6 312.4 L365.6 314.1 L366.5 313.2 L367.5 312.8 L368.4 312.0 L369.3 310.2 L370.2 309.7 L371.2 308.6 L372.0 308.1 L372.9 308.9 L373.8 308.8 L374.7 309.0 L375.5 308.8 L376.3 307.0 L377.2 304.1 L378.0 303.2 L378.8 301.5 L379.6 299.8 L380.4 298.9 L381.2 298.3 L382.0 298.0 L382.7 298.1 L383.5 298.1 L384.3 299.1 L385.0 298.4 L385.7 297.6 L386.5 297.7 L387.2 295.8 L387.9 298.2 L388.6 300.4 L389.3 301.7 L390.0 304.3 L390.7 306.1 L391.4 306.9 L392.1 309.5 L392.7 311.4 L393.4 313.7 L394.1 316.0 L394.7 317.5 L395.4 319.6 L396.0 321.1 L396.6 321.3 L397.3 323.3 L397.9 323.8 L398.5 323.9 L399.1 325.2 L399.7 324.6 L400.3 326.1 L400.9 327.4 L401.5 327.8 L402.1 327.4 L402.7 327.4 L403.3 326.5 L403.9 325.1 L404.4 325.2 L405.0 322.6 L405.6 321.7 L406.1 320.4 L406.7 318.9 L407.2 320.5 L407.8 318.1 L408.3 318.1 L408.8 317.4 L409.4 314.6 L409.9 314.2 L410.4 313.6 L411.0 312.4 L411.5 312.3 L412.0 312.6 L412.5 311.3 L413.0 310.5 L413.5 311.1 L414.0 309.8 L414.5 309.6 L415.0 309.0 L415.5 305.6 L416.0 301.1 L416.5 295.9 L416.9 293.2 L417.4 288.4 L417.9 285.4 L418.4 282.4 L418.8 281.3 L419.3 280.6 L419.8 278.3 L420.2 276.6 L420.7 275.0 L421.1 273.2 L421.6 272.2 L422.0 271.8 L422.5 271.7 L422.9 271.5 L423.3 271.5 L423.8 271.0 L424.2 272.4 L424.7 272.5 L425.1 271.9 L425.5 272.2 L425.9 272.4 L426.4 271.8 L426.8 270.1 L427.2 270.9 L427.6 269.2 L428.0 269.1 L428.4 269.6 L428.8 268.1 L429.2 268.3 L429.6 267.3 L430.0 267.5 L430.4 268.8 L430.8 269.9 L431.2 270.8 L431.6 272.0 L432.0 272.6 L432.4 273.3 L432.8 274.1 L433.2 275.7 L433.6 277.4 L433.9 279.6 L434.3 279.4 L434.7 280.4 L435.1 282.1 L435.4 282.2 L435.8 283.2 L436.2 284.1 L436.5 285.3 L436.9 286.3 L437.3 288.7 L437.6 289.5 L438.0 291.2 L438.3 292.7 L438.7 292.7 L439.1 294.1 L439.4 295.2 L439.8 294.9 L440.1 296.8 L440.5 298.1 L440.8 299.2 L441.1 300.9 L441.5 301.3 L441.8 302.0 L442.2 302.7 L442.5 304.2 L442.8 304.5 L443.2 305.8 L443.5 306.9 L443.8 308.1 L444.2 308.6 L444.5 309.1 L444.8 309.8 L445.1 309.1 L445.5 310.6 L445.8 310.4 L446.1 309.8 L446.4 312.1 L446.8 311.8 L447.1 311.8 L447.4 314.1 L447.7 314.2 L448.0 314.3 L448.3 314.4 L448.6 314.7 L448.9 313.9 L449.3 313.4 L449.6 314.3 L449.9 314.0 L450.2 315.3 L450.5 315.4 L450.8 316.5 L451.1 317.6 L451.4 317.2 L451.7 318.5 L452.0 319.0 L452.3 319.8 L452.6 320.4 L452.8 322.0 L453.1 322.3 L453.4 322.6 L453.7 322.5 L454.0 321.6 L454.3 322.9 L454.6 322.0 L454.9 323.4 L455.1 324.7 L455.4 321.9 L455.7 321.8 L456.0 321.9 L456.3 320.2 L456.5 320.2 L456.8 319.7 L457.1 317.7 L457.4 316.8 L457.6 316.6 L457.9 315.0 L458.2 314.7 L458.5 313.7 L458.7 312.4 L459.0 312.2 L459.3 310.2 L459.5 310.8 L459.8 310.6 L460.1 308.9 L460.3 309.6 L460.6 308.0 L460.9 307.1 L461.1 307.8 L461.4 306.8 L461.6 307.2 L461.9 306.8 L462.2 305.9 L462.4 306.0 L462.7 305.6 L462.9 305.9 L463.2 305.3 L463.4 304.5 L463.7 305.4 L463.9 303.8 L464.2 303.8 L464.4 302.9 L464.7 302.6 L464.9 302.0 L465.2 300.1 L465.4 300.9 L465.7 298.4 L465.9 297.4 L466.2 297.8 L466.4 296.4 L466.6 296.7 L466.9 296.8 L467.1 296.4 L467.4 296.8 L467.6 297.0 L467.8 296.8 L468.1 297.4 L468.3 297.8 L468.5 296.0 L468.8 295.4 L469.0 296.2 L469.3 294.7 L469.5 295.8 L469.7 297.1 L469.9 296.2 L470.2 297.8 L470.4 296.8 L470.6 297.1 L470.9 297.4 L471.1 295.2 L471.3 295.4 L471.5 295.6 L471.8 295.7 L472.0 296.7 L472.2 296.1 L472.4 295.9 L472.7 297.5 L472.9 296.7 L473.1 298.4 L473.3 299.4 L473.6 298.3 L473.8 300.2 L474.0 298.7 L474.2 298.7 L474.4 300.3 L474.6 298.9 L474.9 298.7 L475.1 300.0 L475.3 300.2 L475.5 299.0 L475.7 300.0 L475.9 300.7 L476.1 301.0 L476.4 300.1 L476.6 300.6 L476.8 300.7 L477.0 298.5 L477.2 299.5 L477.4 299.8 L477.6 300.1 L477.8 299.7 L478.0 301.0 L478.2 301.7 L478.4 301.6 L478.6 303.3 L478.8 302.3 L479.1 302.1 L479.3 302.5 L479.5 302.1 L479.7 302.7 L479.9 302.5 L480.1 302.0 L480.3 300.7 L480.5 300.0 L480.7 299.8 L480.9 299.8 L481.1 300.5 L481.3 301.2 L481.5 302.1 L481.7 302.3 L481.9 302.0 L482.0 301.9 L482.2 301.8 L482.4 302.1 L482.6 302.8 L482.8 303.5 L483.0 302.9 L483.2 303.0 L483.4 303.5 L483.6 302.6 L483.8 302.8 L484.0 303.5 L484.2 302.2 L484.4 303.0 L484.5 303.4 L484.7 302.4 L484.9 303.0 L485.1 302.1 L485.3 302.1 L485.5 303.3 L485.7 303.8 L485.9 303.5 L486.0 304.0 L486.2 303.5 L486.4 302.1 L486.6 303.3 L486.8 302.7 L487.0 302.3 L487.1 302.0 L487.3 300.3 L487.5 299.8 L487.7 298.9 L487.9 299.9 L488.0 299.9 L488.2 300.8 L488.4 300.8 L488.6 299.5 L488.8 300.0 L488.9 299.0 L489.1 298.0 L489.3 298.8 L489.5 299.2 L489.7 298.6 L489.8 298.8 L490.0 298.6 L490.2 297.1 L490.4 297.0 L490.5 296.9 L490.7 297.1 L490.9 297.8 L491.0 298.4 L491.2 297.9 L491.4 296.8 L491.6 298.2 L491.7 297.0 L491.9 296.9 L492.1 298.7 L492.2 296.9 L492.4 296.4 L492.6 297.1 L492.8 296.2 L492.9 296.7 L493.1 297.1 L493.3 296.5 L493.4 296.5 L493.6 297.2 L493.8 298.0 L493.9 298.7 L494.1 298.5 L494.3 299.4 L494.4 297.9 L494.6 296.8 L494.8 298.3 L494.9 298.0 L495.1 300.0 L495.2 300.0 L495.4 301.1 L495.6 300.8 L495.7 299.8 L495.9 301.8 L496.1 302.1 L496.2 301.8 L496.4 301.6 L496.5 301.9 L496.7 301.2 L496.9 302.6 L497.0 303.8 L497.2 304.2 L497.3 304.6 L497.5 304.0 L497.6 304.8 L497.8 304.0 L498.0 304.4 L498.1 304.8 L498.3 305.0 L498.4 306.1 L498.6 306.1 L498.7 307.5 L498.9 308.0 L499.1 308.1 L499.2 307.8 L499.4 307.9 L499.5 307.7 L499.7 305.6 L499.8 306.0 L500.0 306.4 L500.1 305.8 L500.3 306.2 L500.4 307.2 L500.6 307.5 L500.7 307.3 L500.9 307.1 L501.0 305.9 L501.2 305.2 L501.3 305.4 L501.5 306.4 L501.6 307.5 L501.8 307.9 L501.9 307.3 L502.1 307.0 L502.2 305.9 L502.4 305.7 L502.5 306.8 L502.7 306.5 L502.8 306.9 L503.0 308.2 L503.1 308.5 L503.3 309.2 L503.4 309.7 L503.6 309.4 L503.7 309.2 L503.8 309.2 L504.0 309.9 L504.1 309.7 L504.3 310.6 L504.4 312.1 L504.6 312.3 L504.7 311.1 L504.9 311.6 L505.0 311.7 L505.1 309.9 L505.3 311.1 L505.4 310.7 L505.6 310.0 L505.7 310.5 L505.8 309.7 L506.0 310.9 L506.1 311.0 L506.3 311.0 L506.4 311.7 L506.6 312.0 L506.7 312.8 L506.8 312.3 L507.0 312.8 L507.1 313.7 L507.2 313.9 L507.4 313.8 L507.5 314.9 L507.7 313.9 L507.8 313.4 L507.9 312.5 L508.1 312.3 L508.2 313.7 L508.3 313.2 L508.5 315.5 L508.6 315.6 L508.8 315.6 L508.9 316.1 L509.0 315.2 L509.2 317.3 L509.3 316.3 L509.4 315.7 L509.6 317.1 L509.7 315.6 L509.8 315.8 L510.0 316.3 L510.1 316.4 L510.2 316.4 L510.4 316.1 L510.5 315.1 L510.6 316.0 L510.8 315.0 L510.9 312.9 L511.0 314.7 L511.1 313.2 L511.3 312.8 L511.4 315.1 L511.5 313.7 L511.7 313.3 L511.8 312.8 L511.9 311.5 L512.1 311.9 L512.2 312.0 L512.3 312.4 L512.4 310.9 L512.6 310.9 L512.7 311.0 L512.8 309.8 L513.0 310.7 L513.1 310.0 L513.2 309.3 L513.3 308.3 L513.5 309.7 L513.6 309.7 L513.7 308.7 L513.9 309.1 L514.0 308.3 L514.1 308.5 L514.2 307.9 L514.4 308.8 L514.5 308.5 L514.6 308.2 L514.7 308.5 L514.9 308.9 L515.0 307.6 L515.1 308.7 L515.2 307.6 L515.4 305.7 L515.5 306.5 L515.6 305.0 L515.7 305.3 L515.8 306.9 L516.0 307.7 L516.1 306.7 L516.2 306.4 L516.3 304.7 L516.5 303.3 L516.6 303.5 L516.7 303.0 L516.8 303.8 L516.9 303.9 L517.1 304.0 L517.2 304.2 L517.3 303.0 L517.4 303.5 L517.5 302.9 L517.7 304.2 L517.8 305.5 L517.9 304.4 L518.0 304.7 L518.1 303.7 L518.3 302.9 L518.4 304.3 L518.5 304.6 L518.6 305.4 L518.7 305.6 L518.9 304.9 L519.0 306.1 L519.1 305.7 L519.2 307.2 L519.3 307.3 L519.4 306.9 L519.6 307.6 L519.7 306.8 L519.8 308.1 L519.9 307.3 L520.0 307.1 L520.1 306.8 L520.3 306.9 L520.4 307.3 L520.5 307.8 L520.6 309.0 L520.7 306.9 L520.8 307.7 L520.9 307.5 L521.1 307.2 L521.2 308.6 L521.3 308.3 L521.4 308.3 L521.5 308.0 L521.6 308.0 L521.7 308.6 L521.9 307.3 L522.0 308.6 L522.1 309.2 L522.2 307.8 L522.3 309.9 L522.4 309.8 L522.5 308.9 L522.6 310.9 L522.8 310.6 L522.9 310.4 L523.0 310.3 L523.1 311.0 L523.2 310.5 L523.3 310.2 L523.4 311.0 L523.5 310.8 L523.6 310.1 L523.8 310.6 L523.9 311.3 L524.0 310.1 L524.1 310.5 L524.2 310.1 L524.3 309.2 L524.4 307.2 L524.5 305.6 L524.6 305.8 L524.7 303.8 L524.8 305.6 L525.0 308.8 L525.1 305.9 L525.2 307.9 L525.3 307.6 L525.4 304.6 L525.5 304.6 L525.6 304.4 L525.7 304.8 L525.8 304.3 L525.9 305.3 L526.0 305.5 L526.1 304.2 L526.2 304.3 L526.4 305.4 L526.5 304.2 L526.6 303.1 L526.7 304.0 L526.8 302.0 L526.9 302.2 L527.0 302.9 L527.1 302.6 L527.2 302.8 L527.3 303.4 L527.4 304.1 L527.5 303.5 L527.6 304.6 L527.7 304.3 L527.8 303.3 L527.9 304.6 L528.0 305.0 L528.1 304.7 L528.2 305.8 L528.3 306.8 L528.4 306.0 L528.6 305.9 L528.7 306.8 L528.8 306.3 L528.9 306.4 L529.0 307.4 L529.1 307.3 L529.2 308.0 L529.3 309.1 L529.4 309.0 L529.5 309.2 L529.6 308.4 L529.7 308.3 L529.8 308.2 L529.9 308.8 L530.0 309.9 L530.1 310.1 L530.2 310.6 L530.3 310.6 L530.4 311.3 L530.5 311.8 L530.6 311.4 L530.7 310.0 L530.8 310.5 L530.9 308.5 L531.0 308.8 L531.1 311.1 L531.2 311.5 L531.3 312.2 L531.4 312.4 L531.5 312.3 L531.6 311.8 L531.7 311.2 L531.8 312.0 L531.9 312.6 L532.0 313.2 L532.1 313.8 L532.2 313.9 L532.3 314.2 L532.4 313.5 L532.5 313.3 L532.6 313.1 L532.7 313.2 L532.8 313.2 L532.9 314.2 L533.0 313.9 L533.1 314.1 L533.1 314.3 L533.2 313.9 L533.3 314.2 L533.4 314.2 L533.5 313.6 L533.6 313.1 L533.7 312.8 L533.8 311.5 L533.9 311.6 L534.0 310.1 L534.1 310.6 L534.2 311.9 L534.3 311.4 L534.4 313.1 L534.5 312.9 L534.6 312.0 L534.7 313.2 L534.8 312.6 L534.9 312.6 L535.0 312.9 L535.1 313.1 L535.2 311.9 L535.3 312.0 L535.3 311.5 L535.4 309.7 L535.5 310.2 L535.6 310.4 L535.7 310.2 L535.8 310.0 L535.9 310.6 L536.0 309.3 L536.1 309.3 L536.2 310.9 L536.3 310.2 L536.4 310.2 L536.5 312.0 L536.6 310.6 L536.6 311.5 L536.7 310.9 L536.8 310.1 L536.9 310.6 L537.0 309.6 L537.1 310.7 L537.2 311.6 L537.3 311.4 L537.4 311.8 L537.5 311.9 L537.6 310.6 L537.7 310.6 L537.7 310.8 L537.8 309.3 L537.9 310.2 L538.0 310.6 L538.1 310.2 L538.2 309.6 L538.3 311.0 L538.4 309.4 L538.5 308.5 L538.6 311.5 L538.7 308.6 L538.7 311.2 L538.8 311.5 L538.9 310.9 L539.0 312.8 L539.1 311.4 L539.2 311.1 L539.3 310.2 L539.4 308.7 L539.5 308.0 L539.5 308.9 L539.6 308.0 L539.7 309.1 L539.8 310.0 L539.9 309.5 L540.0 309.9 L540.1 309.2 L540.2 310.0 L540.3 309.2 L540.3 309.5 L540.4 310.5 L540.5 310.4 L540.6 312.0 L540.7 313.2 L540.8 313.6 L540.9 313.9 L540.9 313.4 L541.0 312.2 L541.1 311.8 L541.2 310.6 L541.3 310.9 L541.4 310.6 L541.5 310.8 L541.6 313.4 L541.6 313.1 L541.7 314.1 L541.8 314.7 L541.9 313.0 L542.0 312.5 L542.1 311.3 L542.2 310.6 L542.2 311.1 L542.3 311.7 L542.4 312.8 L542.5 312.9 L542.6 312.4 L542.7 312.4 L542.8 312.2 L542.8 311.0 L542.9 312.2 L543.0 311.4 L543.1 310.9 L543.2 312.2 L543.3 311.4 L543.3 312.1 L543.4 312.5 L543.5 311.9 L543.6 313.1 L543.7 313.7 L543.8 313.8 L543.8 313.9 L543.9 313.7 L544.0 313.3 L544.1 313.0 L544.2 314.1 L544.3 313.8 L544.3 314.2 L544.4 314.8 L544.5 314.0 L544.6 314.9 L544.7 314.9 L544.8 313.6 L544.8 314.2 L544.9 313.9 L545.0 313.5 L545.1 315.7 L545.2 315.2 L545.3 314.3 L545.3 315.1 L545.4 313.8 L545.5 314.2 L545.6 316.6 L545.7 316.4 L545.7 317.3 L545.8 317.0 L545.9 315.1 L546.0 315.1 L546.1 314.6 L546.2 314.8 L546.2 315.4 L546.3 315.6 L546.4 315.1 L546.5 315.3 L546.6 315.9 L546.6 315.4 L546.7 316.8 L546.8 318.4 L546.9 317.0 L547.0 318.7 L547.0 319.0 L547.1 316.2 L547.2 318.1 L547.3 318.1 L547.4 316.6 L547.4 319.8 L547.5 318.1 L547.6 318.8 L547.7 319.7 L547.8 317.7 L547.8 319.4 L547.9 317.9 L548.0 318.3 L548.1 319.3 L548.2 319.8 L548.2 321.6 L548.3 320.8 L548.4 321.2 L548.5 320.4 L548.5 317.9 L548.6 319.6 L548.7 319.9 L548.8 319.8 L548.9 322.9 L548.9 322.3 L549.0 320.7 L549.1 321.1 L549.2 320.1 L549.2 320.1 L549.3 320.9 L549.4 320.0 L549.5 320.0 L549.6 320.1 L549.6 320.7 L549.7 321.4 L549.8 321.6 L549.9 322.0 L549.9 321.9 L550.0 322.8 L550.1 322.8 L550.2 324.0 L550.2 324.5 L550.3 323.9 L550.4 324.0 L550.5 324.7 L550.6 323.9 L550.6 323.2 L550.7 325.5 L550.8 325.0 L550.9 325.8 L550.9 327.4 L551.0 327.2 L551.1 327.5 L551.2 327.2 L551.2 327.2 L551.3 326.1 L551.4 326.1 L551.5 326.7 L551.5 326.0 L551.6 326.4 L551.7 326.0 L551.8 326.3 L551.8 327.8 L551.9 328.6 L552.0 329.7 L552.1 329.6 L552.1 329.6 L552.2 328.6 L552.3 329.2 L552.4 329.0 L552.4 328.9 L552.5 331.3 L552.6 330.9 L552.7 331.3 L552.7 332.2 L552.8 330.6 L552.9 329.9 L553.0 330.4 L553.0 329.9 L553.1 330.6 L553.2 331.6 L553.2 331.0 L553.3 331.2 L553.4 330.9 L553.5 329.9 L553.5 330.4 L553.6 330.4 L553.7 330.4 L553.8 330.5 L553.8 331.1 L553.9 331.7 L554.0 332.6 L554.1 333.1 L554.1 332.1 L554.2 332.7 L554.3 333.2 L554.3 332.1 L554.4 332.7 L554.5 333.0 L554.6 331.8 L554.6 332.2 L554.7 333.9 L554.8 332.9 L554.8 332.1 L554.9 332.2 L555.0 331.1 L555.1 331.1 L555.1 332.2 L555.2 332.7 L555.3 332.1 L555.3 332.8 L555.4 331.9 L555.5 332.2 L555.6 333.2 L555.6 332.2 L555.7 333.0 L555.8 331.4 L555.8 331.1 L555.9 331.5 L556.0 331.2 L556.1 331.3 L556.1 330.7 L556.2 330.6 L556.3 330.0 L556.3 331.1 L556.4 330.9 L556.5 330.1 L556.6 330.4 L556.6 330.4 L556.7 330.9 L556.8 331.1 L556.8 332.2 L556.9 331.8 L557.0 331.5 L557.0 332.4 L557.1 332.7 L557.2 332.1 L557.3 333.2 L557.3 333.6 L557.4 331.8 L557.5 331.9 L557.5 331.7 L557.6 329.8 L557.7 330.1 L557.7 331.8 L557.8 330.9 L557.9 331.9 L557.9 331.3 L558.0 331.0 L558.1 331.7 L558.2 332.5 L558.2 333.7 L558.3 334.3 L558.4 334.6 L558.4 334.1 L558.5 334.2 L558.6 333.6 L558.6 332.8 L558.7 332.6 L558.8 332.0 L558.8 333.5 L558.9 333.9 L559.0 334.7 L559.0 334.1 L559.1 333.7 L559.2 333.6 L559.2 333.1 L559.3 334.5 L559.4 334.0 L559.4 334.9 L559.5 334.2 L559.6 335.1 L559.6 334.5 L559.7 334.5 L559.8 334.9 L559.8 334.7 L559.9 335.3 L560.0 335.1 L560.0 335.3 L560.1 336.3 L560.2 336.2 L560.2 336.3 L560.3 335.8 L560.4 335.9 L560.4 335.1 L560.5 334.9 L560.6 335.2 L560.6 336.2 L560.7 335.9 L560.8 335.9 L560.8 336.9 L560.9 335.0 L561.0 335.3 L561.0 336.5 L561.1 338.2 L561.2 338.3 L561.2 340.3 L561.3 339.5 L561.4 337.7 L561.4 339.3 L561.5 338.9 L561.6 338.3 L561.6 339.6 L561.7 338.7 L561.8 338.0 L561.8 338.8 L561.9 338.6 L562.0 338.8 L562.0 338.8 L562.1 338.7 L562.2 338.8 L562.2 339.9 L562.3 339.6 L562.4 339.6 L562.4 340.5 L562.5 339.5 L562.5 338.9 L562.6 339.8 L562.7 338.8 L562.7 338.3 L562.8 339.7 L562.9 338.7 L562.9 338.9 L563.0 339.6 L563.1 338.7 L563.1 338.5 L563.2 338.4 L563.3 337.6 L563.3 337.7 L563.4 338.0 L563.4 338.2 L563.5 338.8 L563.6 340.0 L563.6 339.4 L563.7 338.6 L563.8 339.3 L563.8 339.7 L563.9 337.5 L564.0 339.1 L564.0 338.7 L564.1 336.4 L564.1 338.9 L564.2 338.7 L564.3 339.1 L564.3 339.3 L564.4 338.8 L564.5 338.2 L564.5 339.1 L564.6 339.5 L564.7 338.4 L564.7 339.5 L564.8 339.5 L564.8 338.5 L564.9 339.6 L565.0 340.1 L565.0 339.3 L565.1 340.0 L565.2 339.7 L565.2 339.7 L565.3 340.0 L565.3 338.8 L565.4 339.1 L565.5 339.7 L565.5 338.9 L565.6 338.9 L565.6 340.4 L565.7 339.9 L565.8 339.7 L565.8 338.9 L565.9 339.1 L566.0 339.3 L566.0 338.8 L566.1 340.8 L566.1 339.8 L566.2 340.6 L566.3 340.8 L566.3 341.9 L566.4 343.7 L566.5 341.1 L566.5 341.7 L566.6 339.4 L566.6 338.3 L566.7 339.5 L566.8 338.3 L566.8 340.2 L566.9 339.9 L566.9 339.6 L567.0 340.0 L567.1 340.2 L567.1 340.2 L567.2 340.8 L567.2 341.2 L567.3 340.4 L567.4 340.0 L567.4 339.8 L567.5 339.1 L567.5 339.0" stroke="#ff7f0e" stroke-width="5.2"/></g></g><path d="M95.00 68.95H102.00M95.00 126.66H102.00M95.00 184.38H102.00M95.00 242.09H102.00M95.00 299.81H102.00M95.00 357.52H102.00M95.00 415.24H102.00M95.00 472.95H102.00M218.98 507.75V514.75M386.48 507.75V514.75M553.98 507.75V514.75" stroke="#000" stroke-width="1.6" fill="none"/><path d="M101.90 507.75V511.75M131.40 507.75V511.75M152.33 507.75V511.75M168.56 507.75V511.75M181.82 507.75V511.75M193.03 507.75V511.75M202.75 507.75V511.75M211.32 507.75V511.75M269.40 507.75V511.75M298.90 507.75V511.75M319.83 507.75V511.75M336.06 507.75V511.75M349.32 507.75V511.75M360.53 507.75V511.75M370.25 507.75V511.75M378.82 507.75V511.75M436.90 507.75V511.75M466.40 507.75V511.75M487.33 507.75V511.75M503.56 507.75V511.75M516.82 507.75V511.75M528.03 507.75V511.75M537.75 507.75V511.75M546.32 507.75V511.75" stroke="#000" stroke-width="1.2" fill="none"/><rect x="102.0" y="46.0" width="465.10" height="461.75" fill="none" stroke="#000" stroke-width="1.6" stroke-linejoin="miter"/><text x="86.60" y="75.95" text-anchor="end" font-family='"Liberation Sans", sans-serif' font-size="22.5" textLength="12.20" lengthAdjust="spacingAndGlyphs">0</text><text x="86.00" y="134.66" text-anchor="end" font-family='"Liberation Sans", sans-serif' font-size="22.5" textLength="28.64" lengthAdjust="spacingAndGlyphs">−5</text><text x="86.00" y="192.38" text-anchor="end" font-family='"Liberation Sans", sans-serif' font-size="22.5" textLength="41.00" lengthAdjust="spacingAndGlyphs">−10</text><text x="86.00" y="250.09" text-anchor="end" font-family='"Liberation Sans", sans-serif' font-size="22.5" textLength="41.00" lengthAdjust="spacingAndGlyphs">−15</text><text x="86.00" y="307.81" text-anchor="end" font-family='"Liberation Sans", sans-serif' font-size="22.5" textLength="41.00" lengthAdjust="spacingAndGlyphs">−20</text><text x="86.00" y="365.52" text-anchor="end" font-family='"Liberation Sans", sans-serif' font-size="22.5" textLength="41.00" lengthAdjust="spacingAndGlyphs">−25</text><text x="86.00" y="423.24" text-anchor="end" font-family='"Liberation Sans", sans-serif' font-size="22.5" textLength="41.00" lengthAdjust="spacingAndGlyphs">−30</text><text x="86.00" y="480.95" text-anchor="end" font-family='"Liberation Sans", sans-serif' font-size="22.5" textLength="41.00" lengthAdjust="spacingAndGlyphs">−35</text><text x="202.08" y="542.70" font-family='"Liberation Sans", sans-serif' font-size="22.5" textLength="24.80" lengthAdjust="spacingAndGlyphs">10</text><text x="228.08" y="535.20" font-family='"Liberation Sans", sans-serif' font-size="17" textLength="8.2" lengthAdjust="spacingAndGlyphs">2</text><text x="369.58" y="542.70" font-family='"Liberation Sans", sans-serif' font-size="22.5" textLength="24.80" lengthAdjust="spacingAndGlyphs">10</text><text x="395.58" y="535.20" font-family='"Liberation Sans", sans-serif' font-size="17" textLength="8.2" lengthAdjust="spacingAndGlyphs">3</text><text x="537.08" y="542.70" font-family='"Liberation Sans", sans-serif' font-size="22.5" textLength="24.80" lengthAdjust="spacingAndGlyphs">10</text><text x="563.08" y="535.20" font-family='"Liberation Sans", sans-serif' font-size="17" textLength="8.2" lengthAdjust="spacingAndGlyphs">4</text><text x="204.3" y="33.7" font-family='"Liberation Sans", sans-serif' font-size="25" textLength="261" lengthAdjust="spacingAndGlyphs">Magnitude Spectrum</text><text x="259" y="573.1" font-family='"Liberation Sans", sans-serif' font-size="21.5" textLength="150" lengthAdjust="spacingAndGlyphs">Frequency(Hz)</text><text transform="translate(31.9,357.8) rotate(-90)" font-family='"Liberation Sans", sans-serif' font-size="21.5" textLength="153.3" lengthAdjust="spacingAndGlyphs">Magnitude(dB)</text><rect x="302.1" y="55.8" width="254.9" height="67.6" rx="4" ry="4" fill="#fff" fill-opacity="0.8" stroke="#d6d6d6" stroke-width="2"/><path d="M307.9 72.9H354" stroke="#1f77b4" stroke-width="4"/><path d="M307.9 103.9H354" stroke="#ffa556" stroke-width="4"/><text x="368.5" y="80.9" font-family='"Liberation Sans", sans-serif' font-size="23" textLength="179" lengthAdjust="spacingAndGlyphs">Pred. (smoothed)</text><text x="368" y="111.9" font-family='"Liberation Sans", sans-serif' font-size="23" textLength="155" lengthAdjust="spacingAndGlyphs">GT (smoothed)</text></svg></body></html>
